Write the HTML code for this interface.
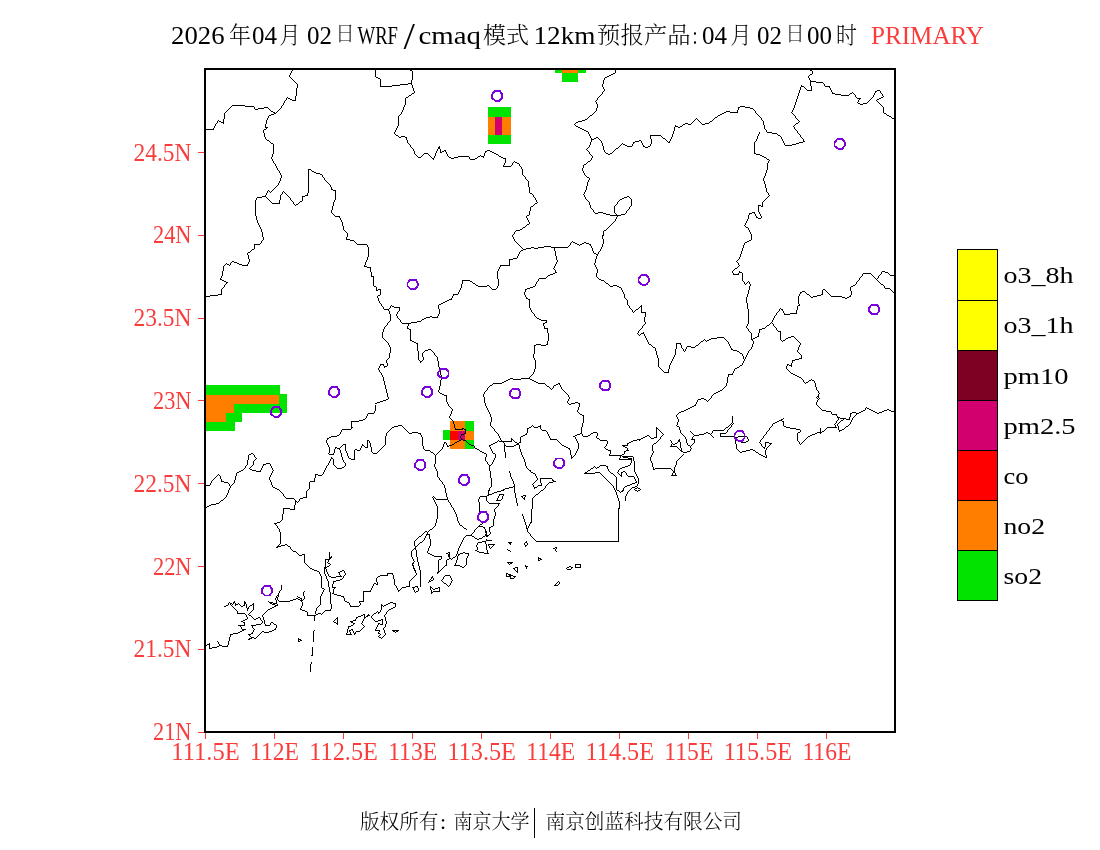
<!DOCTYPE html>
<html lang="zh-CN"><head><meta charset="utf-8"><title>WRF/cmaq 12km PRIMARY</title>
<style>
html,body{margin:0;padding:0;background:#fff;}
body{width:1100px;height:850px;overflow:hidden;}
svg{display:block;}
text{font-family:"Liberation Serif","Noto Serif CJK SC","Noto Sans CJK SC",serif;}
.cjk{font-family:"Liberation Serif","Noto Serif CJK SC","Noto Sans CJK SC",serif;font-weight:300;}
.map{fill:none;stroke:#000;stroke-width:1;stroke-linecap:butt;shape-rendering:crispEdges;}
.st{fill:none;stroke:#7d00dc;stroke-width:1.8;stroke-linejoin:round;shape-rendering:crispEdges;}
</style></head><body>
<svg width="1100" height="850" viewBox="0 0 1100 850">
<rect x="0" y="0" width="1100" height="850" fill="#fff"/>
<g shape-rendering="crispEdges">
<rect x="555" y="69" width="31" height="3.6" fill="#00e400"/>
<rect x="562" y="69" width="15.6" height="3.6" fill="#ff7e00"/>
<rect x="562" y="72.6" width="16" height="9.4" fill="#00e400"/>
<rect x="488" y="107" width="23" height="10" fill="#00e400"/>
<rect x="488" y="117" width="23" height="18" fill="#ff7e00"/>
<rect x="495" y="117" width="7" height="18" fill="#d2006e"/>
<rect x="488" y="135" width="23" height="9" fill="#00e400"/>
<rect x="205" y="385" width="75" height="10" fill="#00e400"/>
<rect x="205" y="395" width="74" height="9" fill="#ff7e00"/>
<rect x="279" y="394" width="8" height="10" fill="#00e400"/>
<rect x="205" y="404" width="29" height="9" fill="#ff7e00"/>
<rect x="234" y="404" width="53" height="9" fill="#00e400"/>
<rect x="205" y="413" width="21" height="9" fill="#ff7e00"/>
<rect x="226" y="413" width="16" height="9" fill="#00e400"/>
<rect x="205" y="422" width="30" height="9" fill="#00e400"/>
<rect x="450" y="421" width="15" height="10" fill="#ff7e00"/>
<rect x="465" y="421" width="9" height="10" fill="#00e400"/>
<rect x="443" y="430" width="7" height="10" fill="#00e400"/>
<rect x="450" y="431" width="8" height="9" fill="#ff0000"/>
<rect x="458" y="431" width="7" height="9" fill="#d2006e"/>
<rect x="465" y="431" width="9" height="9" fill="#ff7e00"/>
<rect x="450" y="440" width="15" height="9" fill="#ff7e00"/>
<rect x="465" y="440" width="9" height="9" fill="#00e400"/>
</g>
<path class="map" d="M292 69.5h1M375 69.5h1M409 69.5h1M615 69.5h1M809 69.5h1M292 70.5h1M375 70.5h1M410 70.5h2M615 70.5h1M810 70.5h2M291 71.5h1M375 71.5h1M412 71.5h1M615 71.5h1M812 71.5h1M291 72.5h1M375 72.5h1M412 72.5h1M615 72.5h1M812 72.5h1M290 73.5h1M375 73.5h1M412 73.5h1M613 73.5h2M812 73.5h1M290 74.5h1M375 74.5h1M412 74.5h1M611 74.5h2M810 74.5h2M289 75.5h1M375 75.5h1M412 75.5h1M609 75.5h2M809 75.5h1M289 76.5h1M375 76.5h1M412 76.5h1M607 76.5h2M808 76.5h1M290 77.5h1M376 77.5h2M412 77.5h1M605 77.5h2M808 77.5h1M291 78.5h1M378 78.5h2M412 78.5h1M604 78.5h1M809 78.5h1M292 79.5h1M380 79.5h1M412 79.5h1M604 79.5h1M809 79.5h1M293 80.5h1M380 80.5h1M411 80.5h1M603 80.5h1M810 80.5h1M294 81.5h1M380 81.5h1M411 81.5h1M603 81.5h1M810 81.5h6M295 82.5h1M380 82.5h1M411 82.5h1M603 82.5h1M810 82.5h1M816 82.5h7M296 83.5h1M380 83.5h1M408 83.5h4M603 83.5h1M810 83.5h1M823 83.5h1M297 84.5h1M380 84.5h1M400 84.5h8M411 84.5h1M602 84.5h1M810 84.5h1M824 84.5h1M297 85.5h1M380 85.5h1M392 85.5h8M412 85.5h1M602 85.5h1M801 85.5h1M810 85.5h1M824 85.5h1M297 86.5h1M380 86.5h12M412 86.5h1M602 86.5h1M801 86.5h3M811 86.5h1M825 86.5h5M297 87.5h1M412 87.5h1M603 87.5h1M800 87.5h1M804 87.5h1M811 87.5h1M829 87.5h1M296 88.5h1M413 88.5h1M603 88.5h1M800 88.5h1M805 88.5h1M811 88.5h1M830 88.5h1M296 89.5h1M413 89.5h1M604 89.5h1M800 89.5h1M806 89.5h1M811 89.5h1M830 89.5h1M296 90.5h1M413 90.5h1M604 90.5h1M799 90.5h1M807 90.5h5M831 90.5h1M877 90.5h3M296 91.5h1M414 91.5h1M603 91.5h1M799 91.5h1M831 91.5h1M875 91.5h2M880 91.5h1M296 92.5h1M414 92.5h1M602 92.5h1M799 92.5h1M832 92.5h1M852 92.5h1M875 92.5h1M880 92.5h1M296 93.5h1M412 93.5h2M602 93.5h1M798 93.5h1M832 93.5h3M850 93.5h2M853 93.5h1M874 93.5h1M881 93.5h1M296 94.5h1M411 94.5h1M601 94.5h1M798 94.5h1M835 94.5h6M849 94.5h1M854 94.5h1M874 94.5h1M882 94.5h1M296 95.5h1M409 95.5h2M600 95.5h1M798 95.5h1M841 95.5h8M855 95.5h1M873 95.5h1M882 95.5h1M295 96.5h1M408 96.5h1M599 96.5h1M797 96.5h1M855 96.5h1M873 96.5h1M883 96.5h1M287 97.5h1M295 97.5h1M406 97.5h2M598 97.5h1M797 97.5h1M856 97.5h1M872 97.5h1M881 97.5h2M286 98.5h1M288 98.5h2M295 98.5h1M405 98.5h1M597 98.5h1M797 98.5h1M857 98.5h4M871 98.5h1M879 98.5h2M286 99.5h1M290 99.5h2M295 99.5h1M405 99.5h1M597 99.5h1M796 99.5h1M859 99.5h1M870 99.5h1M877 99.5h2M285 100.5h1M292 100.5h4M405 100.5h1M596 100.5h1M796 100.5h1M858 100.5h1M869 100.5h1M876 100.5h1M284 101.5h1M405 101.5h1M595 101.5h1M796 101.5h1M858 101.5h1M868 101.5h1M877 101.5h1M284 102.5h1M405 102.5h1M596 102.5h1M795 102.5h1M857 102.5h1M867 102.5h1M878 102.5h1M283 103.5h1M405 103.5h1M596 103.5h1M795 103.5h1M858 103.5h2M863 103.5h4M879 103.5h1M283 104.5h1M405 104.5h1M597 104.5h1M795 104.5h1M860 104.5h3M880 104.5h1M232 105.5h13M282 105.5h1M404 105.5h1M597 105.5h1M794 105.5h1M881 105.5h1M231 106.5h1M245 106.5h9M281 106.5h1M404 106.5h1M597 106.5h1M740 106.5h5M794 106.5h1M882 106.5h1M230 107.5h1M254 107.5h1M264 107.5h4M281 107.5h1M403 107.5h1M597 107.5h1M738 107.5h2M745 107.5h5M794 107.5h1M883 107.5h1M229 108.5h1M254 108.5h1M258 108.5h6M268 108.5h1M280 108.5h1M403 108.5h1M596 108.5h1M738 108.5h1M750 108.5h3M793 108.5h1M883 108.5h1M228 109.5h1M255 109.5h3M269 109.5h1M279 109.5h1M403 109.5h1M596 109.5h1M738 109.5h1M753 109.5h1M793 109.5h1M883 109.5h1M227 110.5h1M270 110.5h1M278 110.5h1M402 110.5h1M596 110.5h1M737 110.5h1M754 110.5h1M792 110.5h1M883 110.5h1M226 111.5h1M271 111.5h2M277 111.5h1M402 111.5h1M595 111.5h1M726 111.5h4M737 111.5h1M755 111.5h1M792 111.5h1M883 111.5h1M225 112.5h1M273 112.5h2M276 112.5h1M401 112.5h1M594 112.5h1M724 112.5h2M730 112.5h8M755 112.5h1M791 112.5h1M883 112.5h1M224 113.5h1M274 113.5h2M401 113.5h1M593 113.5h1M722 113.5h2M756 113.5h1M792 113.5h1M884 113.5h2M224 114.5h1M271 114.5h3M400 114.5h1M592 114.5h1M720 114.5h2M757 114.5h1M793 114.5h1M886 114.5h1M224 115.5h1M269 115.5h2M399 115.5h1M590 115.5h2M718 115.5h2M758 115.5h1M794 115.5h1M887 115.5h2M224 116.5h1M268 116.5h1M398 116.5h1M589 116.5h1M717 116.5h1M759 116.5h1M795 116.5h1M889 116.5h2M224 117.5h1M268 117.5h1M398 117.5h1M588 117.5h1M715 117.5h2M760 117.5h1M795 117.5h1M891 117.5h1M224 118.5h1M267 118.5h1M398 118.5h1M587 118.5h1M696 118.5h1M714 118.5h1M761 118.5h1M796 118.5h1M892 118.5h2M223 119.5h1M267 119.5h1M398 119.5h1M585 119.5h2M695 119.5h1M697 119.5h1M713 119.5h1M761 119.5h1M797 119.5h1M894 119.5h1M218 120.5h1M223 120.5h1M266 120.5h1M398 120.5h1M582 120.5h3M694 120.5h1M698 120.5h1M712 120.5h1M762 120.5h1M798 120.5h1M894 120.5h1M217 121.5h1M219 121.5h2M223 121.5h1M266 121.5h1M398 121.5h1M578 121.5h4M693 121.5h1M699 121.5h1M710 121.5h2M763 121.5h1M799 121.5h1M894 121.5h1M217 122.5h1M221 122.5h3M266 122.5h1M398 122.5h1M576 122.5h2M692 122.5h1M700 122.5h1M709 122.5h1M763 122.5h1M798 122.5h1M894 122.5h1M216 123.5h1M223 123.5h1M266 123.5h1M398 123.5h1M575 123.5h1M685 123.5h3M691 123.5h1M701 123.5h1M705 123.5h4M763 123.5h1M796 123.5h2M894 123.5h1M215 124.5h1M265 124.5h1M398 124.5h1M574 124.5h1M683 124.5h2M688 124.5h3M702 124.5h3M763 124.5h1M795 124.5h1M215 125.5h1M265 125.5h1M398 125.5h1M575 125.5h1M675 125.5h1M682 125.5h1M764 125.5h1M794 125.5h1M214 126.5h1M265 126.5h1M397 126.5h1M576 126.5h2M675 126.5h3M680 126.5h2M764 126.5h1M793 126.5h1M214 127.5h1M265 127.5h3M397 127.5h1M578 127.5h2M674 127.5h1M678 127.5h2M764 127.5h1M794 127.5h1M213 128.5h1M266 128.5h1M396 128.5h1M580 128.5h2M674 128.5h1M764 128.5h1M794 128.5h1M205 129.5h9M264 129.5h2M396 129.5h1M582 129.5h2M674 129.5h1M765 129.5h1M795 129.5h1M263 130.5h1M395 130.5h1M584 130.5h2M674 130.5h1M766 130.5h1M796 130.5h1M263 131.5h1M395 131.5h1M586 131.5h2M673 131.5h1M766 131.5h1M797 131.5h1M263 132.5h1M394 132.5h1M588 132.5h1M673 132.5h1M759 132.5h1M767 132.5h5M797 132.5h1M264 133.5h1M394 133.5h1M588 133.5h1M673 133.5h1M759 133.5h1M772 133.5h5M798 133.5h1M264 134.5h1M395 134.5h1M589 134.5h1M672 134.5h1M758 134.5h1M777 134.5h1M799 134.5h1M264 135.5h1M396 135.5h2M589 135.5h1M650 135.5h11M672 135.5h1M758 135.5h1M778 135.5h2M800 135.5h1M264 136.5h1M398 136.5h1M401 136.5h4M590 136.5h1M650 136.5h1M661 136.5h1M672 136.5h1M757 136.5h1M780 136.5h1M800 136.5h1M265 137.5h1M399 137.5h2M405 137.5h2M590 137.5h1M596 137.5h2M650 137.5h1M662 137.5h1M671 137.5h1M757 137.5h1M781 137.5h1M801 137.5h1M265 138.5h1M406 138.5h1M591 138.5h1M594 138.5h2M598 138.5h1M650 138.5h1M663 138.5h2M671 138.5h1M757 138.5h1M781 138.5h1M802 138.5h1M266 139.5h1M406 139.5h1M591 139.5h3M599 139.5h1M651 139.5h1M665 139.5h1M670 139.5h1M756 139.5h1M782 139.5h1M803 139.5h1M267 140.5h2M407 140.5h1M591 140.5h1M600 140.5h1M639 140.5h2M651 140.5h1M666 140.5h1M670 140.5h1M756 140.5h1M782 140.5h1M803 140.5h1M269 141.5h1M407 141.5h1M591 141.5h1M601 141.5h1M635 141.5h4M641 141.5h1M651 141.5h1M667 141.5h1M669 141.5h1M755 141.5h1M783 141.5h1M803 141.5h2M270 142.5h1M407 142.5h1M590 142.5h1M601 142.5h1M633 142.5h2M641 142.5h1M651 142.5h1M668 142.5h2M754 142.5h1M783 142.5h1M799 142.5h4M271 143.5h2M408 143.5h1M590 143.5h1M602 143.5h1M622 143.5h1M633 143.5h1M642 143.5h1M651 143.5h1M754 143.5h1M784 143.5h1M796 143.5h3M273 144.5h1M409 144.5h1M590 144.5h1M602 144.5h1M621 144.5h1M623 144.5h2M632 144.5h1M642 144.5h1M650 144.5h1M754 144.5h1M784 144.5h1M792 144.5h4M273 145.5h1M410 145.5h1M589 145.5h1M602 145.5h1M620 145.5h1M625 145.5h2M632 145.5h1M643 145.5h1M650 145.5h1M754 145.5h1M785 145.5h7M273 146.5h1M410 146.5h1M439 146.5h1M589 146.5h1M603 146.5h1M619 146.5h1M627 146.5h5M643 146.5h2M648 146.5h2M754 146.5h1M273 147.5h1M411 147.5h1M438 147.5h2M588 147.5h1M603 147.5h1M618 147.5h1M645 147.5h3M754 147.5h1M273 148.5h1M412 148.5h1M438 148.5h2M587 148.5h1M603 148.5h1M616 148.5h2M754 148.5h1M273 149.5h1M413 149.5h1M437 149.5h1M440 149.5h1M586 149.5h1M603 149.5h1M615 149.5h1M754 149.5h1M273 150.5h1M413 150.5h1M437 150.5h1M440 150.5h1M444 150.5h2M487 150.5h3M587 150.5h1M604 150.5h1M614 150.5h1M754 150.5h1M273 151.5h1M414 151.5h1M436 151.5h1M440 151.5h1M442 151.5h2M445 151.5h1M485 151.5h2M490 151.5h2M588 151.5h1M604 151.5h1M613 151.5h1M754 151.5h1M273 152.5h1M414 152.5h1M436 152.5h1M440 152.5h2M446 152.5h1M485 152.5h1M492 152.5h2M589 152.5h1M605 152.5h1M612 152.5h1M754 152.5h1M273 153.5h1M414 153.5h1M424 153.5h4M435 153.5h1M446 153.5h1M484 153.5h1M494 153.5h2M589 153.5h1M606 153.5h2M610 153.5h2M754 153.5h2M272 154.5h1M415 154.5h1M423 154.5h1M428 154.5h1M435 154.5h1M447 154.5h1M484 154.5h1M496 154.5h2M590 154.5h1M608 154.5h2M756 154.5h4M272 155.5h1M416 155.5h1M422 155.5h1M429 155.5h1M435 155.5h1M447 155.5h1M480 155.5h1M484 155.5h1M498 155.5h1M591 155.5h1M760 155.5h2M272 156.5h1M417 156.5h1M421 156.5h1M430 156.5h1M434 156.5h1M448 156.5h1M458 156.5h11M478 156.5h2M481 156.5h3M499 156.5h2M592 156.5h1M762 156.5h2M271 157.5h1M418 157.5h3M431 157.5h1M434 157.5h1M449 157.5h2M454 157.5h4M469 157.5h1M477 157.5h1M483 157.5h1M501 157.5h2M592 157.5h1M764 157.5h2M271 158.5h1M432 158.5h2M451 158.5h3M469 158.5h1M475 158.5h2M503 158.5h3M591 158.5h1M766 158.5h1M272 159.5h1M433 159.5h1M470 159.5h5M505 159.5h1M591 159.5h1M767 159.5h2M272 160.5h1M505 160.5h1M590 160.5h1M769 160.5h1M273 161.5h1M505 161.5h1M514 161.5h1M588 161.5h2M768 161.5h1M273 162.5h1M505 162.5h1M513 162.5h1M515 162.5h2M587 162.5h1M768 162.5h1M274 163.5h1M504 163.5h1M512 163.5h1M517 163.5h2M586 163.5h1M767 163.5h1M275 164.5h1M504 164.5h1M512 164.5h1M519 164.5h1M584 164.5h2M767 164.5h1M275 165.5h1M503 165.5h1M511 165.5h1M519 165.5h1M583 165.5h1M767 165.5h1M276 166.5h1M503 166.5h8M520 166.5h1M583 166.5h1M767 166.5h1M276 167.5h1M521 167.5h1M583 167.5h1M767 167.5h1M277 168.5h1M521 168.5h1M582 168.5h1M767 168.5h1M277 169.5h1M308 169.5h3M522 169.5h1M582 169.5h1M767 169.5h1M278 170.5h1M308 170.5h1M311 170.5h1M522 170.5h1M582 170.5h1M766 170.5h1M279 171.5h1M308 171.5h1M312 171.5h2M522 171.5h1M583 171.5h1M766 171.5h1M279 172.5h1M308 172.5h1M314 172.5h2M522 172.5h1M583 172.5h1M766 172.5h1M280 173.5h1M308 173.5h1M316 173.5h4M522 173.5h1M584 173.5h1M765 173.5h1M280 174.5h1M308 174.5h1M320 174.5h2M522 174.5h1M584 174.5h1M765 174.5h1M281 175.5h1M308 175.5h1M322 175.5h1M523 175.5h1M585 175.5h1M765 175.5h1M281 176.5h1M308 176.5h1M322 176.5h1M524 176.5h1M586 176.5h1M764 176.5h1M281 177.5h1M308 177.5h1M323 177.5h1M525 177.5h1M587 177.5h2M764 177.5h1M280 178.5h1M308 178.5h1M324 178.5h1M525 178.5h1M589 178.5h1M763 178.5h1M280 179.5h1M308 179.5h1M324 179.5h1M526 179.5h1M589 179.5h1M763 179.5h1M280 180.5h1M308 180.5h1M325 180.5h1M527 180.5h1M588 180.5h1M763 180.5h1M279 181.5h1M308 181.5h1M326 181.5h1M528 181.5h1M588 181.5h1M764 181.5h1M279 182.5h1M308 182.5h1M327 182.5h1M528 182.5h1M587 182.5h1M764 182.5h1M278 183.5h1M308 183.5h1M328 183.5h1M528 183.5h1M587 183.5h1M764 183.5h1M278 184.5h1M308 184.5h1M329 184.5h1M528 184.5h1M587 184.5h1M765 184.5h1M277 185.5h1M308 185.5h1M330 185.5h1M528 185.5h1M587 185.5h1M765 185.5h1M276 186.5h1M308 186.5h1M330 186.5h1M528 186.5h1M586 186.5h1M765 186.5h1M275 187.5h1M308 187.5h1M331 187.5h1M529 187.5h1M586 187.5h1M765 187.5h1M274 188.5h1M308 188.5h1M331 188.5h1M529 188.5h1M586 188.5h1M766 188.5h1M273 189.5h1M308 189.5h1M331 189.5h2M529 189.5h1M586 189.5h1M766 189.5h1M268 190.5h1M272 190.5h1M308 190.5h1M333 190.5h3M529 190.5h1M585 190.5h1M766 190.5h1M267 191.5h1M269 191.5h1M271 191.5h1M283 191.5h1M308 191.5h1M335 191.5h1M529 191.5h1M585 191.5h1M766 191.5h1M267 192.5h1M270 192.5h1M282 192.5h1M284 192.5h1M308 192.5h1M335 192.5h1M529 192.5h1M584 192.5h1M767 192.5h1M266 193.5h1M282 193.5h1M285 193.5h1M307 193.5h1M335 193.5h1M530 193.5h2M584 193.5h1M768 193.5h1M266 194.5h1M281 194.5h1M286 194.5h1M307 194.5h1M335 194.5h1M532 194.5h1M583 194.5h1M768 194.5h1M265 195.5h1M280 195.5h1M287 195.5h1M305 195.5h3M335 195.5h1M533 195.5h1M584 195.5h1M769 195.5h1M262 196.5h4M280 196.5h1M288 196.5h1M302 196.5h3M335 196.5h1M533 196.5h1M584 196.5h1M627 196.5h2M768 196.5h1M257 197.5h5M266 197.5h1M280 197.5h1M289 197.5h1M302 197.5h1M335 197.5h1M534 197.5h1M585 197.5h1M624 197.5h3M629 197.5h1M767 197.5h1M256 198.5h1M267 198.5h1M280 198.5h1M290 198.5h1M302 198.5h1M335 198.5h1M535 198.5h1M585 198.5h1M622 198.5h2M630 198.5h1M766 198.5h1M256 199.5h1M268 199.5h1M280 199.5h1M290 199.5h1M302 199.5h1M335 199.5h1M535 199.5h1M586 199.5h1M620 199.5h2M631 199.5h1M765 199.5h1M255 200.5h1M269 200.5h1M279 200.5h1M291 200.5h1M302 200.5h1M334 200.5h1M536 200.5h1M587 200.5h1M619 200.5h1M631 200.5h1M764 200.5h1M255 201.5h1M270 201.5h1M279 201.5h1M292 201.5h1M300 201.5h2M334 201.5h1M536 201.5h1M588 201.5h1M618 201.5h1M631 201.5h1M763 201.5h1M255 202.5h1M271 202.5h1M279 202.5h1M293 202.5h1M299 202.5h1M333 202.5h1M537 202.5h1M589 202.5h1M617 202.5h1M631 202.5h1M762 202.5h1M255 203.5h1M272 203.5h8M293 203.5h1M298 203.5h1M333 203.5h1M535 203.5h2M589 203.5h1M617 203.5h1M631 203.5h1M762 203.5h1M255 204.5h1M294 204.5h1M296 204.5h2M333 204.5h1M534 204.5h1M589 204.5h1M616 204.5h1M631 204.5h1M762 204.5h1M255 205.5h1M295 205.5h1M333 205.5h1M533 205.5h1M590 205.5h1M615 205.5h1M631 205.5h1M758 205.5h3M762 205.5h1M255 206.5h1M332 206.5h1M531 206.5h2M590 206.5h1M614 206.5h1M630 206.5h1M758 206.5h1M761 206.5h2M255 207.5h1M332 207.5h1M530 207.5h1M590 207.5h1M614 207.5h1M629 207.5h1M758 207.5h1M255 208.5h1M332 208.5h1M530 208.5h1M591 208.5h1M614 208.5h1M629 208.5h1M758 208.5h1M255 209.5h1M332 209.5h1M530 209.5h1M592 209.5h1M614 209.5h1M628 209.5h1M758 209.5h1M255 210.5h1M331 210.5h1M530 210.5h1M593 210.5h1M614 210.5h1M627 210.5h1M758 210.5h1M255 211.5h1M331 211.5h1M529 211.5h1M593 211.5h1M614 211.5h1M626 211.5h1M758 211.5h1M255 212.5h1M331 212.5h1M529 212.5h1M594 212.5h1M598 212.5h5M614 212.5h1M626 212.5h1M752 212.5h3M759 212.5h1M255 213.5h1M332 213.5h1M529 213.5h1M595 213.5h3M603 213.5h3M615 213.5h1M625 213.5h1M749 213.5h3M754 213.5h1M759 213.5h1M255 214.5h1M333 214.5h1M529 214.5h1M606 214.5h4M616 214.5h1M621 214.5h4M749 214.5h1M755 214.5h1M760 214.5h1M255 215.5h1M334 215.5h1M527 215.5h2M610 215.5h11M748 215.5h1M755 215.5h1M760 215.5h1M256 216.5h1M335 216.5h5M526 216.5h1M617 216.5h1M748 216.5h1M756 216.5h1M761 216.5h1M256 217.5h1M339 217.5h1M526 217.5h1M616 217.5h1M748 217.5h1M756 217.5h2M761 217.5h1M256 218.5h1M340 218.5h1M527 218.5h1M616 218.5h1M748 218.5h1M758 218.5h3M256 219.5h1M340 219.5h1M527 219.5h1M615 219.5h1M747 219.5h1M257 220.5h1M341 220.5h1M528 220.5h1M615 220.5h1M747 220.5h1M257 221.5h1M341 221.5h1M528 221.5h1M614 221.5h1M746 221.5h1M257 222.5h1M342 222.5h1M529 222.5h1M613 222.5h1M746 222.5h1M258 223.5h1M342 223.5h1M529 223.5h1M612 223.5h1M745 223.5h1M258 224.5h1M342 224.5h1M527 224.5h2M611 224.5h1M745 224.5h1M259 225.5h1M342 225.5h1M526 225.5h1M610 225.5h1M744 225.5h1M259 226.5h1M343 226.5h1M525 226.5h1M609 226.5h1M745 226.5h1M260 227.5h1M343 227.5h1M523 227.5h2M608 227.5h1M746 227.5h2M260 228.5h1M343 228.5h1M522 228.5h1M607 228.5h1M748 228.5h1M261 229.5h1M343 229.5h1M520 229.5h2M606 229.5h1M748 229.5h1M261 230.5h1M344 230.5h1M516 230.5h4M604 230.5h2M749 230.5h1M261 231.5h1M345 231.5h1M515 231.5h1M603 231.5h1M749 231.5h1M262 232.5h1M346 232.5h1M514 232.5h1M603 232.5h1M750 232.5h1M262 233.5h1M347 233.5h1M514 233.5h1M603 233.5h1M750 233.5h1M262 234.5h1M347 234.5h1M513 234.5h1M603 234.5h1M751 234.5h1M262 235.5h1M347 235.5h1M512 235.5h1M602 235.5h2M751 235.5h1M262 236.5h1M347 236.5h1M512 236.5h1M602 236.5h1M751 236.5h1M263 237.5h1M346 237.5h1M513 237.5h1M602 237.5h1M751 237.5h1M263 238.5h1M346 238.5h1M513 238.5h1M602 238.5h1M751 238.5h1M263 239.5h1M346 239.5h4M514 239.5h1M603 239.5h1M751 239.5h1M262 240.5h1M350 240.5h4M514 240.5h1M603 240.5h1M749 240.5h2M261 241.5h1M354 241.5h1M515 241.5h1M572 241.5h1M603 241.5h1M747 241.5h2M261 242.5h1M355 242.5h1M516 242.5h1M571 242.5h1M573 242.5h2M584 242.5h2M603 242.5h1M745 242.5h2M260 243.5h1M356 243.5h1M517 243.5h1M570 243.5h1M575 243.5h2M582 243.5h2M586 243.5h3M603 243.5h1M744 243.5h1M254 244.5h6M357 244.5h10M518 244.5h1M570 244.5h1M577 244.5h2M580 244.5h2M589 244.5h2M602 244.5h1M744 244.5h1M254 245.5h1M367 245.5h1M519 245.5h1M569 245.5h1M579 245.5h1M590 245.5h1M602 245.5h1M743 245.5h1M254 246.5h1M367 246.5h1M520 246.5h1M544 246.5h7M568 246.5h1M591 246.5h1M602 246.5h1M743 246.5h1M254 247.5h1M368 247.5h1M521 247.5h1M531 247.5h3M538 247.5h6M551 247.5h17M591 247.5h1M601 247.5h1M743 247.5h1M254 248.5h1M368 248.5h1M522 248.5h1M526 248.5h5M534 248.5h4M554 248.5h1M592 248.5h1M601 248.5h1M742 248.5h1M252 249.5h2M368 249.5h1M523 249.5h3M554 249.5h1M592 249.5h1M600 249.5h1M742 249.5h1M251 250.5h1M368 250.5h1M521 250.5h2M554 250.5h1M592 250.5h1M600 250.5h1M742 250.5h1M250 251.5h1M368 251.5h1M520 251.5h1M555 251.5h1M593 251.5h1M599 251.5h1M741 251.5h1M248 252.5h2M368 252.5h1M519 252.5h1M555 252.5h1M593 252.5h1M598 252.5h1M741 252.5h1M247 253.5h1M368 253.5h1M519 253.5h1M555 253.5h1M594 253.5h2M598 253.5h1M741 253.5h1M247 254.5h1M368 254.5h1M518 254.5h1M555 254.5h1M596 254.5h2M740 254.5h1M248 255.5h1M368 255.5h1M518 255.5h1M555 255.5h1M597 255.5h1M740 255.5h1M248 256.5h1M368 256.5h1M517 256.5h1M556 256.5h1M596 256.5h1M740 256.5h1M248 257.5h1M367 257.5h1M517 257.5h1M556 257.5h1M596 257.5h1M739 257.5h1M248 258.5h1M367 258.5h1M513 258.5h4M556 258.5h1M596 258.5h1M739 258.5h1M249 259.5h1M367 259.5h1M509 259.5h4M556 259.5h1M595 259.5h1M738 259.5h1M249 260.5h1M366 260.5h1M509 260.5h1M557 260.5h1M595 260.5h1M737 260.5h1M232 261.5h2M249 261.5h1M366 261.5h1M509 261.5h1M557 261.5h1M595 261.5h1M736 261.5h1M231 262.5h1M234 262.5h3M248 262.5h1M365 262.5h1M509 262.5h1M556 262.5h1M595 262.5h1M737 262.5h1M226 263.5h1M230 263.5h1M237 263.5h2M248 263.5h1M365 263.5h1M509 263.5h1M556 263.5h1M594 263.5h1M738 263.5h1M225 264.5h1M227 264.5h2M230 264.5h1M239 264.5h3M247 264.5h1M365 264.5h1M509 264.5h1M555 264.5h1M594 264.5h1M738 264.5h1M224 265.5h1M229 265.5h1M242 265.5h6M364 265.5h1M500 265.5h10M555 265.5h1M595 265.5h1M739 265.5h1M223 266.5h1M364 266.5h3M500 266.5h1M554 266.5h1M595 266.5h1M738 266.5h1M223 267.5h1M367 267.5h4M499 267.5h1M554 267.5h1M596 267.5h1M737 267.5h1M223 268.5h1M370 268.5h1M499 268.5h1M553 268.5h1M596 268.5h1M735 268.5h2M223 269.5h1M370 269.5h1M498 269.5h1M554 269.5h1M597 269.5h1M734 269.5h1M223 270.5h1M370 270.5h1M498 270.5h1M555 270.5h1M597 270.5h1M733 270.5h1M222 271.5h1M370 271.5h1M497 271.5h1M555 271.5h1M597 271.5h1M732 271.5h1M739 271.5h1M882 271.5h3M222 272.5h1M371 272.5h1M497 272.5h1M555 272.5h2M597 272.5h1M732 272.5h1M739 272.5h3M881 272.5h1M885 272.5h3M222 273.5h1M371 273.5h1M497 273.5h1M553 273.5h2M596 273.5h1M733 273.5h1M738 273.5h1M742 273.5h1M863 273.5h8M881 273.5h1M888 273.5h1M222 274.5h1M371 274.5h1M497 274.5h1M550 274.5h3M596 274.5h1M733 274.5h6M742 274.5h1M862 274.5h1M871 274.5h1M880 274.5h1M889 274.5h1M222 275.5h1M371 275.5h1M497 275.5h1M548 275.5h2M596 275.5h1M742 275.5h1M862 275.5h1M872 275.5h1M879 275.5h1M890 275.5h5M221 276.5h1M371 276.5h3M497 276.5h1M547 276.5h1M596 276.5h1M742 276.5h1M861 276.5h1M873 276.5h1M878 276.5h1M221 277.5h1M373 277.5h1M497 277.5h1M546 277.5h1M597 277.5h1M742 277.5h1M860 277.5h1M874 277.5h1M878 277.5h1M220 278.5h1M373 278.5h1M497 278.5h1M539 278.5h7M598 278.5h1M742 278.5h1M859 278.5h1M875 278.5h1M877 278.5h1M220 279.5h2M373 279.5h1M498 279.5h1M538 279.5h1M599 279.5h2M742 279.5h1M859 279.5h1M876 279.5h1M222 280.5h2M373 280.5h1M462 280.5h8M498 280.5h1M538 280.5h1M601 280.5h3M742 280.5h1M858 280.5h1M877 280.5h1M224 281.5h2M373 281.5h1M462 281.5h1M470 281.5h2M498 281.5h1M537 281.5h1M604 281.5h1M743 281.5h1M748 281.5h1M857 281.5h1M878 281.5h1M226 282.5h2M373 282.5h1M462 282.5h1M472 282.5h1M498 282.5h1M536 282.5h1M605 282.5h1M744 282.5h1M747 282.5h1M749 282.5h1M856 282.5h1M879 282.5h1M226 283.5h1M373 283.5h1M462 283.5h1M473 283.5h2M498 283.5h1M536 283.5h1M606 283.5h2M744 283.5h1M746 283.5h1M749 283.5h1M856 283.5h1M880 283.5h1M225 284.5h1M373 284.5h1M461 284.5h1M475 284.5h1M498 284.5h1M535 284.5h1M608 284.5h1M745 284.5h1M750 284.5h1M855 284.5h1M881 284.5h2M224 285.5h1M373 285.5h1M461 285.5h1M476 285.5h2M487 285.5h2M498 285.5h1M535 285.5h1M609 285.5h1M613 285.5h4M750 285.5h1M853 285.5h2M883 285.5h1M224 286.5h1M374 286.5h2M461 286.5h1M478 286.5h9M489 286.5h1M497 286.5h1M533 286.5h2M610 286.5h3M617 286.5h2M749 286.5h1M851 286.5h2M884 286.5h1M223 287.5h1M376 287.5h1M461 287.5h1M490 287.5h1M497 287.5h1M530 287.5h3M619 287.5h2M749 287.5h1M850 287.5h1M884 287.5h1M222 288.5h1M376 288.5h1M460 288.5h1M491 288.5h1M496 288.5h1M527 288.5h3M621 288.5h1M749 288.5h1M850 288.5h1M885 288.5h5M221 289.5h1M376 289.5h1M378 289.5h3M460 289.5h1M492 289.5h4M525 289.5h2M621 289.5h1M749 289.5h1M823 289.5h2M850 289.5h1M890 289.5h1M221 290.5h1M376 290.5h2M380 290.5h1M459 290.5h1M525 290.5h1M622 290.5h1M748 290.5h1M822 290.5h1M825 290.5h1M850 290.5h1M891 290.5h1M221 291.5h1M380 291.5h1M459 291.5h1M525 291.5h1M622 291.5h1M748 291.5h1M802 291.5h3M822 291.5h1M826 291.5h1M851 291.5h1M892 291.5h1M221 292.5h1M380 292.5h1M458 292.5h1M524 292.5h1M623 292.5h1M748 292.5h1M800 292.5h2M805 292.5h1M822 292.5h1M827 292.5h1M851 292.5h1M893 292.5h1M221 293.5h1M380 293.5h1M458 293.5h1M524 293.5h1M623 293.5h1M748 293.5h1M800 293.5h1M806 293.5h1M822 293.5h1M828 293.5h1M851 293.5h1M894 293.5h1M218 294.5h4M380 294.5h1M453 294.5h5M524 294.5h1M624 294.5h1M747 294.5h1M799 294.5h1M807 294.5h2M821 294.5h2M829 294.5h1M851 294.5h1M210 295.5h8M378 295.5h2M453 295.5h1M525 295.5h1M624 295.5h1M747 295.5h1M799 295.5h1M809 295.5h1M817 295.5h4M830 295.5h1M850 295.5h1M205 296.5h5M377 296.5h1M452 296.5h1M525 296.5h1M624 296.5h1M747 296.5h1M798 296.5h1M810 296.5h1M813 296.5h4M831 296.5h11M849 296.5h2M377 297.5h1M452 297.5h1M526 297.5h1M624 297.5h1M746 297.5h1M798 297.5h1M811 297.5h2M842 297.5h3M847 297.5h2M378 298.5h1M451 298.5h1M526 298.5h2M625 298.5h1M746 298.5h1M798 298.5h1M845 298.5h2M378 299.5h1M449 299.5h3M528 299.5h2M626 299.5h1M746 299.5h1M798 299.5h1M378 300.5h1M447 300.5h2M529 300.5h1M627 300.5h1M746 300.5h1M798 300.5h1M379 301.5h1M445 301.5h2M529 301.5h1M627 301.5h1M746 301.5h1M798 301.5h1M379 302.5h1M443 302.5h2M529 302.5h1M627 302.5h1M746 302.5h1M798 302.5h1M380 303.5h1M441 303.5h2M529 303.5h1M627 303.5h1M747 303.5h1M798 303.5h1M381 304.5h1M439 304.5h2M529 304.5h1M627 304.5h1M747 304.5h1M799 304.5h1M381 305.5h1M391 305.5h1M438 305.5h1M529 305.5h1M628 305.5h1M641 305.5h1M747 305.5h1M798 305.5h2M382 306.5h1M390 306.5h1M392 306.5h2M438 306.5h1M529 306.5h1M629 306.5h1M640 306.5h2M747 306.5h1M797 306.5h1M383 307.5h1M390 307.5h1M394 307.5h6M438 307.5h1M529 307.5h1M629 307.5h1M639 307.5h1M641 307.5h1M747 307.5h1M797 307.5h1M383 308.5h1M389 308.5h1M399 308.5h1M438 308.5h1M530 308.5h1M630 308.5h1M638 308.5h1M641 308.5h1M747 308.5h1M780 308.5h1M797 308.5h1M384 309.5h5M399 309.5h1M439 309.5h1M530 309.5h1M631 309.5h1M636 309.5h2M641 309.5h1M748 309.5h1M779 309.5h1M781 309.5h2M797 309.5h1M388 310.5h1M399 310.5h1M439 310.5h1M531 310.5h1M632 310.5h1M635 310.5h1M641 310.5h1M748 310.5h1M779 310.5h1M782 310.5h1M796 310.5h1M389 311.5h1M398 311.5h1M439 311.5h1M531 311.5h1M632 311.5h1M634 311.5h1M641 311.5h1M748 311.5h1M778 311.5h1M783 311.5h1M796 311.5h1M389 312.5h1M397 312.5h1M439 312.5h1M532 312.5h1M633 312.5h1M641 312.5h5M748 312.5h1M777 312.5h1M783 312.5h1M796 312.5h1M389 313.5h1M397 313.5h1M439 313.5h1M533 313.5h1M645 313.5h1M748 313.5h1M776 313.5h1M784 313.5h1M790 313.5h7M390 314.5h1M396 314.5h1M438 314.5h1M534 314.5h1M645 314.5h1M748 314.5h1M776 314.5h1M784 314.5h6M390 315.5h1M396 315.5h1M438 315.5h1M534 315.5h1M645 315.5h1M748 315.5h1M775 315.5h1M390 316.5h1M397 316.5h1M430 316.5h2M437 316.5h1M535 316.5h1M645 316.5h1M748 316.5h1M774 316.5h1M390 317.5h1M397 317.5h1M426 317.5h4M432 317.5h6M536 317.5h1M644 317.5h1M748 317.5h1M774 317.5h1M390 318.5h1M398 318.5h1M424 318.5h2M537 318.5h2M644 318.5h1M748 318.5h1M773 318.5h1M390 319.5h1M399 319.5h1M422 319.5h2M539 319.5h2M644 319.5h1M748 319.5h1M773 319.5h1M390 320.5h1M400 320.5h1M421 320.5h1M541 320.5h6M644 320.5h1M748 320.5h1M772 320.5h1M389 321.5h1M400 321.5h1M417 321.5h4M546 321.5h1M644 321.5h1M748 321.5h1M772 321.5h1M388 322.5h1M401 322.5h1M411 322.5h6M545 322.5h2M645 322.5h1M748 322.5h1M771 322.5h1M387 323.5h1M402 323.5h9M543 323.5h2M645 323.5h1M748 323.5h1M770 323.5h1M772 323.5h1M387 324.5h1M408 324.5h1M543 324.5h1M644 324.5h1M747 324.5h1M769 324.5h1M773 324.5h1M386 325.5h1M408 325.5h1M543 325.5h1M643 325.5h1M747 325.5h1M767 325.5h2M773 325.5h1M385 326.5h1M407 326.5h1M544 326.5h1M642 326.5h1M746 326.5h1M766 326.5h1M774 326.5h1M384 327.5h1M407 327.5h1M544 327.5h1M642 327.5h1M746 327.5h1M765 327.5h1M775 327.5h1M384 328.5h1M407 328.5h2M544 328.5h4M641 328.5h1M747 328.5h1M762 328.5h3M776 328.5h1M383 329.5h1M409 329.5h2M547 329.5h1M640 329.5h1M748 329.5h1M759 329.5h3M776 329.5h1M383 330.5h1M410 330.5h1M547 330.5h1M639 330.5h1M748 330.5h1M759 330.5h1M777 330.5h1M383 331.5h1M410 331.5h1M547 331.5h1M638 331.5h1M749 331.5h1M759 331.5h1M778 331.5h3M382 332.5h1M410 332.5h1M547 332.5h1M638 332.5h1M643 332.5h1M750 332.5h1M759 332.5h1M780 332.5h1M382 333.5h1M410 333.5h1M548 333.5h1M637 333.5h1M641 333.5h3M751 333.5h1M758 333.5h1M780 333.5h1M382 334.5h1M410 334.5h1M548 334.5h1M638 334.5h1M640 334.5h1M644 334.5h1M751 334.5h1M758 334.5h1M780 334.5h1M382 335.5h1M410 335.5h1M548 335.5h1M639 335.5h1M644 335.5h1M751 335.5h1M758 335.5h1M780 335.5h1M382 336.5h1M410 336.5h1M548 336.5h1M645 336.5h1M751 336.5h1M757 336.5h2M780 336.5h1M791 336.5h3M382 337.5h1M410 337.5h1M548 337.5h1M645 337.5h1M717 337.5h7M751 337.5h1M755 337.5h2M780 337.5h1M788 337.5h3M794 337.5h1M383 338.5h1M410 338.5h1M548 338.5h1M646 338.5h1M711 338.5h6M724 338.5h1M751 338.5h1M753 338.5h2M780 338.5h1M786 338.5h2M795 338.5h1M384 339.5h1M410 339.5h1M548 339.5h1M646 339.5h1M704 339.5h1M709 339.5h2M725 339.5h1M751 339.5h2M780 339.5h1M785 339.5h1M796 339.5h1M385 340.5h1M410 340.5h2M548 340.5h1M647 340.5h1M703 340.5h1M705 340.5h1M707 340.5h2M726 340.5h1M752 340.5h1M781 340.5h1M783 340.5h2M797 340.5h1M386 341.5h1M412 341.5h2M547 341.5h1M647 341.5h1M701 341.5h2M706 341.5h1M727 341.5h1M753 341.5h1M782 341.5h1M798 341.5h1M387 342.5h1M414 342.5h2M547 342.5h1M648 342.5h1M700 342.5h1M728 342.5h1M753 342.5h1M799 342.5h1M388 343.5h1M416 343.5h2M547 343.5h1M648 343.5h1M676 343.5h5M699 343.5h1M728 343.5h1M753 343.5h1M800 343.5h1M388 344.5h1M417 344.5h1M536 344.5h5M546 344.5h2M649 344.5h2M676 344.5h1M680 344.5h1M698 344.5h1M729 344.5h1M752 344.5h1M800 344.5h1M389 345.5h1M417 345.5h1M534 345.5h2M541 345.5h5M651 345.5h1M676 345.5h1M681 345.5h1M696 345.5h2M729 345.5h1M752 345.5h1M799 345.5h1M389 346.5h1M417 346.5h1M534 346.5h1M652 346.5h1M676 346.5h1M681 346.5h1M687 346.5h4M695 346.5h1M730 346.5h1M752 346.5h1M799 346.5h1M390 347.5h1M417 347.5h1M534 347.5h1M653 347.5h2M676 347.5h1M681 347.5h1M686 347.5h1M691 347.5h4M730 347.5h1M751 347.5h1M798 347.5h1M390 348.5h1M417 348.5h1M534 348.5h1M655 348.5h1M676 348.5h1M682 348.5h1M686 348.5h1M731 348.5h1M751 348.5h1M798 348.5h1M390 349.5h1M417 349.5h1M428 349.5h3M534 349.5h1M655 349.5h1M675 349.5h1M683 349.5h1M685 349.5h1M731 349.5h2M750 349.5h1M798 349.5h1M390 350.5h1M417 350.5h1M425 350.5h3M431 350.5h1M534 350.5h1M655 350.5h1M675 350.5h1M683 350.5h1M685 350.5h1M733 350.5h4M749 350.5h1M797 350.5h1M390 351.5h1M418 351.5h1M424 351.5h1M432 351.5h1M534 351.5h1M656 351.5h1M675 351.5h1M684 351.5h1M737 351.5h2M748 351.5h1M797 351.5h1M390 352.5h1M418 352.5h1M423 352.5h1M433 352.5h1M534 352.5h1M656 352.5h1M675 352.5h1M739 352.5h1M748 352.5h1M798 352.5h1M389 353.5h1M418 353.5h1M422 353.5h1M434 353.5h1M534 353.5h1M656 353.5h1M675 353.5h1M740 353.5h2M747 353.5h1M799 353.5h1M389 354.5h1M418 354.5h1M422 354.5h1M434 354.5h1M533 354.5h1M656 354.5h1M675 354.5h1M742 354.5h1M747 354.5h1M800 354.5h1M389 355.5h1M418 355.5h1M422 355.5h1M435 355.5h1M533 355.5h1M657 355.5h1M674 355.5h1M742 355.5h1M746 355.5h1M801 355.5h1M389 356.5h1M418 356.5h1M422 356.5h1M436 356.5h1M533 356.5h1M657 356.5h1M674 356.5h1M743 356.5h1M746 356.5h1M801 356.5h1M389 357.5h1M418 357.5h1M423 357.5h1M437 357.5h1M533 357.5h1M657 357.5h1M673 357.5h1M743 357.5h1M745 357.5h1M801 357.5h1M388 358.5h1M418 358.5h1M423 358.5h1M437 358.5h1M534 358.5h1M658 358.5h1M673 358.5h1M743 358.5h1M745 358.5h1M799 358.5h3M387 359.5h1M418 359.5h1M423 359.5h1M437 359.5h1M534 359.5h1M658 359.5h1M672 359.5h1M744 359.5h1M795 359.5h4M386 360.5h1M419 360.5h1M422 360.5h1M437 360.5h1M535 360.5h1M658 360.5h1M672 360.5h1M744 360.5h1M792 360.5h3M386 361.5h1M420 361.5h2M438 361.5h1M535 361.5h1M658 361.5h1M671 361.5h1M743 361.5h1M792 361.5h1M386 362.5h1M420 362.5h1M438 362.5h1M535 362.5h1M658 362.5h1M671 362.5h1M743 362.5h1M792 362.5h1M387 363.5h1M438 363.5h1M535 363.5h1M658 363.5h1M670 363.5h1M742 363.5h1M791 363.5h1M380 364.5h4M387 364.5h1M438 364.5h1M535 364.5h1M658 364.5h1M670 364.5h1M742 364.5h1M787 364.5h2M791 364.5h1M380 365.5h1M383 365.5h1M387 365.5h1M438 365.5h1M535 365.5h1M658 365.5h1M669 365.5h1M740 365.5h2M787 365.5h1M789 365.5h3M379 366.5h1M384 366.5h3M438 366.5h1M535 366.5h1M658 366.5h1M669 366.5h1M739 366.5h1M786 366.5h1M791 366.5h1M379 367.5h1M384 367.5h1M439 367.5h1M535 367.5h1M659 367.5h1M669 367.5h1M737 367.5h2M786 367.5h1M378 368.5h1M439 368.5h1M535 368.5h1M660 368.5h1M669 368.5h1M735 368.5h2M786 368.5h1M378 369.5h1M439 369.5h1M534 369.5h1M661 369.5h1M668 369.5h1M734 369.5h1M787 369.5h1M379 370.5h1M439 370.5h1M534 370.5h1M662 370.5h1M668 370.5h1M734 370.5h1M788 370.5h1M379 371.5h1M440 371.5h1M534 371.5h1M663 371.5h1M668 371.5h1M733 371.5h1M789 371.5h1M380 372.5h1M440 372.5h1M533 372.5h1M664 372.5h5M733 372.5h1M790 372.5h1M381 373.5h1M440 373.5h1M533 373.5h1M732 373.5h1M791 373.5h2M381 374.5h1M440 374.5h1M532 374.5h1M728 374.5h5M793 374.5h2M382 375.5h1M441 375.5h1M531 375.5h1M728 375.5h1M795 375.5h2M382 376.5h1M441 376.5h1M530 376.5h1M728 376.5h1M797 376.5h2M383 377.5h1M441 377.5h1M529 377.5h1M727 377.5h1M799 377.5h2M383 378.5h1M441 378.5h1M510 378.5h3M521 378.5h9M727 378.5h1M801 378.5h1M383 379.5h1M441 379.5h1M508 379.5h2M513 379.5h8M530 379.5h2M727 379.5h1M802 379.5h1M811 379.5h1M383 380.5h1M440 380.5h1M506 380.5h2M532 380.5h2M727 380.5h1M803 380.5h1M809 380.5h2M812 380.5h2M384 381.5h1M440 381.5h1M504 381.5h2M534 381.5h2M727 381.5h1M803 381.5h1M808 381.5h1M814 381.5h1M384 382.5h1M440 382.5h1M502 382.5h2M536 382.5h2M727 382.5h1M804 382.5h1M806 382.5h2M814 382.5h1M384 383.5h1M440 383.5h1M493 383.5h9M538 383.5h7M558 383.5h2M726 383.5h1M805 383.5h1M815 383.5h1M384 384.5h1M440 384.5h1M492 384.5h1M545 384.5h1M556 384.5h2M559 384.5h1M726 384.5h1M815 384.5h1M385 385.5h1M440 385.5h1M490 385.5h2M546 385.5h1M554 385.5h2M560 385.5h1M726 385.5h1M815 385.5h1M385 386.5h1M439 386.5h1M489 386.5h1M547 386.5h2M553 386.5h1M560 386.5h1M725 386.5h1M815 386.5h1M385 387.5h1M439 387.5h1M488 387.5h1M549 387.5h1M553 387.5h1M561 387.5h1M724 387.5h1M816 387.5h1M385 388.5h1M439 388.5h1M487 388.5h1M550 388.5h1M552 388.5h1M561 388.5h1M723 388.5h1M816 388.5h1M386 389.5h1M439 389.5h1M487 389.5h1M551 389.5h1M562 389.5h1M722 389.5h1M816 389.5h1M386 390.5h1M438 390.5h1M486 390.5h1M563 390.5h1M720 390.5h2M817 390.5h1M386 391.5h1M438 391.5h1M485 391.5h1M564 391.5h1M718 391.5h2M818 391.5h1M386 392.5h1M439 392.5h1M484 392.5h1M565 392.5h1M716 392.5h2M818 392.5h1M387 393.5h1M440 393.5h2M484 393.5h1M566 393.5h1M714 393.5h2M819 393.5h1M387 394.5h1M442 394.5h2M483 394.5h1M567 394.5h1M713 394.5h1M818 394.5h1M387 395.5h1M444 395.5h3M483 395.5h1M568 395.5h1M712 395.5h1M818 395.5h1M387 396.5h1M446 396.5h1M483 396.5h1M568 396.5h1M711 396.5h1M817 396.5h2M388 397.5h1M446 397.5h1M484 397.5h1M569 397.5h1M711 397.5h1M816 397.5h1M818 397.5h1M388 398.5h1M446 398.5h1M484 398.5h1M569 398.5h1M701 398.5h3M710 398.5h1M817 398.5h1M819 398.5h1M386 399.5h2M446 399.5h1M484 399.5h1M568 399.5h1M698 399.5h3M704 399.5h2M709 399.5h1M818 399.5h1M383 400.5h3M446 400.5h1M484 400.5h1M568 400.5h1M697 400.5h1M706 400.5h1M708 400.5h1M817 400.5h1M380 401.5h3M446 401.5h1M484 401.5h1M567 401.5h1M697 401.5h1M707 401.5h1M817 401.5h1M377 402.5h3M447 402.5h1M484 402.5h1M567 402.5h1M575 402.5h3M696 402.5h1M816 402.5h1M375 403.5h2M447 403.5h1M485 403.5h1M568 403.5h1M571 403.5h4M578 403.5h2M696 403.5h1M816 403.5h1M448 404.5h1M485 404.5h1M569 404.5h2M579 404.5h1M695 404.5h1M816 404.5h1M375 405.5h1M448 405.5h1M485 405.5h1M579 405.5h1M694 405.5h2M817 405.5h1M375 406.5h1M449 406.5h1M486 406.5h1M579 406.5h1M692 406.5h2M818 406.5h1M375 407.5h1M450 407.5h1M486 407.5h1M578 407.5h1M690 407.5h2M819 407.5h1M866 407.5h1M375 408.5h1M451 408.5h1M487 408.5h1M578 408.5h1M688 408.5h2M820 408.5h1M865 408.5h1M867 408.5h2M375 409.5h1M452 409.5h1M487 409.5h1M578 409.5h1M686 409.5h2M821 409.5h1M865 409.5h1M869 409.5h2M887 409.5h2M375 410.5h1M452 410.5h1M488 410.5h1M577 410.5h1M684 410.5h2M822 410.5h4M863 410.5h2M871 410.5h2M884 410.5h3M889 410.5h2M374 411.5h1M451 411.5h1M488 411.5h1M577 411.5h1M681 411.5h3M826 411.5h5M861 411.5h2M873 411.5h2M882 411.5h2M891 411.5h4M374 412.5h1M451 412.5h1M489 412.5h1M578 412.5h1M679 412.5h2M831 412.5h1M852 412.5h4M859 412.5h2M875 412.5h2M879 412.5h3M368 413.5h6M451 413.5h1M489 413.5h1M579 413.5h1M678 413.5h1M831 413.5h1M850 413.5h2M856 413.5h3M877 413.5h2M367 414.5h1M450 414.5h1M490 414.5h1M580 414.5h2M677 414.5h1M832 414.5h5M850 414.5h1M856 414.5h1M367 415.5h1M450 415.5h1M490 415.5h1M582 415.5h2M676 415.5h1M836 415.5h1M850 415.5h1M855 415.5h1M366 416.5h1M449 416.5h1M490 416.5h1M583 416.5h1M676 416.5h1M732 416.5h1M837 416.5h1M850 416.5h1M854 416.5h1M366 417.5h1M449 417.5h1M491 417.5h1M583 417.5h1M677 417.5h1M732 417.5h1M837 417.5h3M849 417.5h1M853 417.5h1M365 418.5h1M450 418.5h1M491 418.5h1M583 418.5h1M677 418.5h1M732 418.5h1M783 418.5h1M838 418.5h1M840 418.5h6M849 418.5h1M852 418.5h1M363 419.5h2M451 419.5h1M491 419.5h1M583 419.5h1M678 419.5h1M732 419.5h1M781 419.5h2M838 419.5h1M843 419.5h1M846 419.5h4M852 419.5h1M359 420.5h4M452 420.5h1M491 420.5h1M583 420.5h1M678 420.5h1M732 420.5h1M779 420.5h3M837 420.5h1M841 420.5h2M851 420.5h1M351 421.5h8M453 421.5h1M491 421.5h1M583 421.5h1M678 421.5h1M732 421.5h1M777 421.5h2M782 421.5h2M836 421.5h1M840 421.5h1M851 421.5h1M351 422.5h1M453 422.5h1M490 422.5h1M583 422.5h1M677 422.5h1M732 422.5h1M775 422.5h2M783 422.5h1M836 422.5h1M839 422.5h1M850 422.5h1M351 423.5h1M453 423.5h1M490 423.5h1M582 423.5h1M677 423.5h1M731 423.5h1M733 423.5h1M773 423.5h2M783 423.5h1M835 423.5h1M838 423.5h1M850 423.5h1M351 424.5h1M454 424.5h1M490 424.5h1M582 424.5h1M677 424.5h1M730 424.5h1M732 424.5h1M772 424.5h1M783 424.5h1M834 424.5h1M837 424.5h1M849 424.5h1M351 425.5h1M398 425.5h4M454 425.5h1M490 425.5h1M532 425.5h1M540 425.5h1M582 425.5h1M676 425.5h1M729 425.5h1M731 425.5h1M772 425.5h1M783 425.5h1M835 425.5h1M837 425.5h1M848 425.5h1M351 426.5h1M394 426.5h4M402 426.5h1M454 426.5h1M491 426.5h1M531 426.5h1M533 426.5h1M538 426.5h3M582 426.5h1M677 426.5h2M728 426.5h1M731 426.5h1M771 426.5h1M784 426.5h2M835 426.5h1M838 426.5h1M846 426.5h2M351 427.5h2M392 427.5h2M403 427.5h1M454 427.5h1M492 427.5h1M529 427.5h2M534 427.5h4M540 427.5h1M581 427.5h1M656 427.5h1M679 427.5h1M726 427.5h2M730 427.5h1M770 427.5h1M786 427.5h4M827 427.5h10M838 427.5h1M845 427.5h1M351 428.5h1M391 428.5h1M404 428.5h1M455 428.5h1M462 428.5h2M493 428.5h1M527 428.5h2M540 428.5h1M581 428.5h1M656 428.5h2M679 428.5h1M725 428.5h1M729 428.5h1M769 428.5h1M790 428.5h6M820 428.5h1M826 428.5h1M838 428.5h1M844 428.5h1M342 429.5h9M390 429.5h1M405 429.5h1M455 429.5h8M464 429.5h2M494 429.5h1M527 429.5h1M541 429.5h1M581 429.5h1M656 429.5h1M658 429.5h1M679 429.5h1M724 429.5h1M728 429.5h1M769 429.5h1M796 429.5h4M820 429.5h1M825 429.5h1M838 429.5h1M842 429.5h2M341 430.5h1M389 430.5h1M406 430.5h1M465 430.5h1M494 430.5h1M527 430.5h1M542 430.5h4M581 430.5h1M656 430.5h1M659 430.5h1M680 430.5h1M713 430.5h11M727 430.5h1M768 430.5h1M800 430.5h1M820 430.5h1M824 430.5h1M839 430.5h3M341 431.5h1M388 431.5h1M407 431.5h1M465 431.5h1M495 431.5h1M527 431.5h1M546 431.5h1M581 431.5h1M656 431.5h1M660 431.5h1M680 431.5h1M690 431.5h1M712 431.5h1M727 431.5h1M767 431.5h1M800 431.5h1M820 431.5h1M822 431.5h2M839 431.5h1M340 432.5h1M387 432.5h1M408 432.5h1M412 432.5h6M465 432.5h1M496 432.5h1M527 432.5h1M547 432.5h1M581 432.5h1M593 432.5h4M656 432.5h1M661 432.5h1M680 432.5h1M691 432.5h1M706 432.5h2M712 432.5h1M726 432.5h1M766 432.5h1M798 432.5h2M817 432.5h5M340 433.5h1M386 433.5h1M409 433.5h3M418 433.5h3M464 433.5h2M497 433.5h1M526 433.5h1M547 433.5h1M580 433.5h2M591 433.5h2M597 433.5h1M656 433.5h1M662 433.5h1M681 433.5h1M692 433.5h1M704 433.5h2M708 433.5h2M711 433.5h1M720 433.5h6M766 433.5h1M797 433.5h1M815 433.5h2M820 433.5h1M339 434.5h1M386 434.5h1M420 434.5h1M461 434.5h3M498 434.5h1M525 434.5h2M548 434.5h1M577 434.5h3M582 434.5h1M590 434.5h1M597 434.5h1M656 434.5h1M663 434.5h1M682 434.5h1M693 434.5h1M699 434.5h5M710 434.5h1M720 434.5h1M765 434.5h1M797 434.5h1M812 434.5h3M337 435.5h2M386 435.5h1M421 435.5h1M461 435.5h1M498 435.5h1M523 435.5h2M548 435.5h1M575 435.5h2M582 435.5h1M588 435.5h2M597 435.5h1M647 435.5h2M656 435.5h1M662 435.5h1M683 435.5h1M694 435.5h5M711 435.5h1M720 435.5h1M764 435.5h1M797 435.5h1M810 435.5h2M331 436.5h6M385 436.5h1M421 436.5h1M460 436.5h1M499 436.5h1M521 436.5h2M549 436.5h1M573 436.5h2M583 436.5h5M596 436.5h1M645 436.5h2M649 436.5h1M656 436.5h1M661 436.5h1M684 436.5h1M693 436.5h1M712 436.5h1M720 436.5h14M738 436.5h9M763 436.5h1M797 436.5h1M808 436.5h2M329 437.5h2M385 437.5h1M422 437.5h1M460 437.5h1M499 437.5h1M520 437.5h1M549 437.5h1M575 437.5h1M596 437.5h1M643 437.5h2M650 437.5h1M654 437.5h3M660 437.5h1M685 437.5h1M692 437.5h1M713 437.5h1M734 437.5h4M747 437.5h1M763 437.5h1M797 437.5h1M807 437.5h1M327 438.5h2M385 438.5h1M422 438.5h1M461 438.5h1M500 438.5h1M511 438.5h1M520 438.5h1M550 438.5h1M575 438.5h1M597 438.5h2M641 438.5h2M651 438.5h3M660 438.5h1M685 438.5h1M692 438.5h1M735 438.5h1M747 438.5h1M762 438.5h1M797 438.5h1M806 438.5h1M327 439.5h1M385 439.5h1M422 439.5h1M461 439.5h2M500 439.5h1M511 439.5h2M520 439.5h1M550 439.5h7M576 439.5h1M599 439.5h1M637 439.5h4M659 439.5h1M679 439.5h1M686 439.5h1M691 439.5h4M735 439.5h1M748 439.5h1M761 439.5h1M797 439.5h1M805 439.5h1M326 440.5h1M367 440.5h2M385 440.5h1M422 440.5h1M459 440.5h2M463 440.5h3M498 440.5h1M501 440.5h1M511 440.5h1M513 440.5h1M520 440.5h1M557 440.5h1M576 440.5h1M600 440.5h7M633 440.5h4M639 440.5h1M658 440.5h1M670 440.5h1M678 440.5h2M686 440.5h1M694 440.5h1M735 440.5h1M748 440.5h1M760 440.5h1M797 440.5h1M804 440.5h1M326 441.5h1M367 441.5h1M369 441.5h1M385 441.5h1M422 441.5h1M457 441.5h2M466 441.5h1M497 441.5h1M499 441.5h13M514 441.5h1M520 441.5h1M558 441.5h1M577 441.5h1M607 441.5h1M631 441.5h2M657 441.5h1M671 441.5h1M678 441.5h2M686 441.5h1M694 441.5h1M735 441.5h1M746 441.5h2M760 441.5h1M798 441.5h1M803 441.5h1M326 442.5h1M367 442.5h1M369 442.5h1M385 442.5h1M422 442.5h1M444 442.5h2M455 442.5h2M467 442.5h1M495 442.5h2M503 442.5h1M515 442.5h2M519 442.5h2M559 442.5h1M577 442.5h1M607 442.5h1M629 442.5h2M656 442.5h1M671 442.5h1M677 442.5h1M680 442.5h1M686 442.5h1M694 442.5h1M735 442.5h1M741 442.5h5M759 442.5h1M765 442.5h4M799 442.5h1M802 442.5h1M327 443.5h1M367 443.5h1M370 443.5h1M385 443.5h1M422 443.5h1M444 443.5h1M446 443.5h1M454 443.5h1M468 443.5h1M493 443.5h2M504 443.5h1M517 443.5h2M560 443.5h1M578 443.5h1M607 443.5h1M627 443.5h2M654 443.5h2M672 443.5h1M675 443.5h2M680 443.5h1M687 443.5h1M693 443.5h1M735 443.5h1M760 443.5h1M765 443.5h1M769 443.5h3M799 443.5h1M801 443.5h1M327 444.5h1M343 444.5h3M362 444.5h1M367 444.5h1M370 444.5h1M385 444.5h1M422 444.5h1M443 444.5h1M446 444.5h1M452 444.5h2M469 444.5h2M491 444.5h2M504 444.5h1M516 444.5h3M561 444.5h1M578 444.5h1M606 444.5h1M627 444.5h1M653 444.5h1M671 444.5h1M673 444.5h2M680 444.5h1M687 444.5h1M692 444.5h1M736 444.5h1M761 444.5h1M765 444.5h1M770 444.5h1M800 444.5h1M328 445.5h1M342 445.5h1M345 445.5h1M362 445.5h2M367 445.5h1M370 445.5h1M384 445.5h1M422 445.5h1M443 445.5h1M447 445.5h1M449 445.5h3M471 445.5h3M489 445.5h2M504 445.5h2M514 445.5h2M519 445.5h1M562 445.5h2M578 445.5h1M606 445.5h1M622 445.5h6M652 445.5h1M671 445.5h1M680 445.5h1M688 445.5h2M691 445.5h1M736 445.5h1M761 445.5h1M765 445.5h1M769 445.5h1M328 446.5h1M341 446.5h1M345 446.5h1M361 446.5h1M364 446.5h1M367 446.5h1M370 446.5h1M383 446.5h1M423 446.5h1M443 446.5h1M447 446.5h2M474 446.5h1M489 446.5h1M504 446.5h1M506 446.5h8M519 446.5h1M564 446.5h2M578 446.5h1M605 446.5h1M623 446.5h2M652 446.5h1M670 446.5h7M680 446.5h1M690 446.5h1M736 446.5h1M762 446.5h1M765 446.5h1M768 446.5h1M329 447.5h1M335 447.5h2M340 447.5h1M345 447.5h1M361 447.5h1M365 447.5h3M371 447.5h1M382 447.5h1M423 447.5h1M442 447.5h1M474 447.5h1M490 447.5h1M504 447.5h1M519 447.5h1M566 447.5h2M578 447.5h1M604 447.5h1M625 447.5h2M652 447.5h1M677 447.5h1M680 447.5h1M690 447.5h1M736 447.5h1M763 447.5h2M767 447.5h1M329 448.5h1M335 448.5h1M337 448.5h3M345 448.5h1M360 448.5h1M371 448.5h1M381 448.5h1M423 448.5h1M442 448.5h1M475 448.5h2M490 448.5h1M504 448.5h1M519 448.5h1M568 448.5h2M578 448.5h1M605 448.5h1M627 448.5h1M652 448.5h1M678 448.5h1M681 448.5h1M691 448.5h1M736 448.5h1M764 448.5h1M766 448.5h1M329 449.5h1M334 449.5h1M339 449.5h1M345 449.5h1M355 449.5h2M360 449.5h1M371 449.5h1M380 449.5h1M424 449.5h1M441 449.5h1M477 449.5h2M491 449.5h1M504 449.5h1M520 449.5h1M569 449.5h1M577 449.5h1M606 449.5h2M627 449.5h1M652 449.5h1M679 449.5h1M681 449.5h1M690 449.5h1M737 449.5h1M750 449.5h3M766 449.5h1M329 450.5h1M334 450.5h1M340 450.5h1M345 450.5h1M354 450.5h1M357 450.5h3M371 450.5h1M379 450.5h1M425 450.5h5M440 450.5h1M479 450.5h1M491 450.5h1M504 450.5h1M520 450.5h1M570 450.5h1M577 450.5h1M608 450.5h3M626 450.5h3M652 450.5h1M680 450.5h2M690 450.5h1M738 450.5h1M746 450.5h4M753 450.5h2M765 450.5h1M329 451.5h1M334 451.5h1M340 451.5h1M346 451.5h1M354 451.5h1M371 451.5h1M378 451.5h1M430 451.5h1M439 451.5h1M480 451.5h2M492 451.5h1M504 451.5h1M520 451.5h1M570 451.5h1M576 451.5h1M610 451.5h1M624 451.5h2M653 451.5h1M681 451.5h2M687 451.5h3M739 451.5h1M742 451.5h4M755 451.5h1M765 451.5h1M329 452.5h1M334 452.5h1M340 452.5h1M346 452.5h1M354 452.5h1M372 452.5h1M377 452.5h1M431 452.5h2M438 452.5h1M482 452.5h2M492 452.5h1M505 452.5h1M521 452.5h1M570 452.5h1M576 452.5h1M610 452.5h1M624 452.5h1M653 452.5h1M683 452.5h4M740 452.5h2M756 452.5h2M765 452.5h1M251 453.5h2M328 453.5h1M333 453.5h1M341 453.5h1M347 453.5h1M354 453.5h1M373 453.5h4M433 453.5h1M437 453.5h1M484 453.5h2M493 453.5h2M505 453.5h1M521 453.5h1M570 453.5h1M575 453.5h1M610 453.5h1M624 453.5h1M652 453.5h1M758 453.5h1M765 453.5h1M249 454.5h2M253 454.5h1M329 454.5h5M341 454.5h1M347 454.5h1M354 454.5h1M434 454.5h1M436 454.5h1M486 454.5h1M495 454.5h1M505 454.5h1M521 454.5h1M570 454.5h1M575 454.5h1M609 454.5h1M622 454.5h2M652 454.5h1M683 454.5h1M759 454.5h2M765 454.5h1M248 455.5h1M254 455.5h1M341 455.5h1M347 455.5h1M354 455.5h1M435 455.5h1M486 455.5h1M495 455.5h1M505 455.5h1M522 455.5h1M571 455.5h1M574 455.5h1M609 455.5h13M651 455.5h1M682 455.5h1M761 455.5h2M766 455.5h1M248 456.5h1M254 456.5h1M341 456.5h1M348 456.5h1M354 456.5h1M435 456.5h1M486 456.5h1M495 456.5h1M505 456.5h1M522 456.5h1M571 456.5h1M573 456.5h1M620 456.5h1M622 456.5h11M651 456.5h1M681 456.5h1M763 456.5h2M766 456.5h1M248 457.5h1M255 457.5h1M331 457.5h1M342 457.5h1M348 457.5h1M354 457.5h1M435 457.5h1M485 457.5h1M495 457.5h1M505 457.5h1M523 457.5h1M571 457.5h2M620 457.5h1M623 457.5h5M633 457.5h1M650 457.5h1M680 457.5h1M765 457.5h2M248 458.5h1M256 458.5h1M331 458.5h2M342 458.5h1M349 458.5h2M354 458.5h1M435 458.5h1M485 458.5h1M494 458.5h1M523 458.5h1M571 458.5h1M619 458.5h1M628 458.5h4M633 458.5h1M650 458.5h1M679 458.5h1M248 459.5h1M255 459.5h1M330 459.5h1M333 459.5h1M342 459.5h1M351 459.5h4M435 459.5h1M485 459.5h1M494 459.5h1M524 459.5h1M619 459.5h13M633 459.5h1M650 459.5h1M678 459.5h1M247 460.5h1M254 460.5h1M330 460.5h1M333 460.5h1M343 460.5h1M435 460.5h1M485 460.5h1M493 460.5h1M524 460.5h1M631 460.5h1M633 460.5h1M650 460.5h1M677 460.5h1M247 461.5h1M253 461.5h1M329 461.5h1M333 461.5h1M343 461.5h1M435 461.5h1M486 461.5h1M493 461.5h1M524 461.5h1M631 461.5h1M634 461.5h1M651 461.5h1M676 461.5h1M247 462.5h1M253 462.5h1M329 462.5h1M333 462.5h1M344 462.5h1M435 462.5h1M487 462.5h1M492 462.5h1M525 462.5h1M631 462.5h1M634 462.5h1M651 462.5h1M676 462.5h1M247 463.5h1M253 463.5h1M266 463.5h4M328 463.5h1M333 463.5h1M345 463.5h1M435 463.5h1M487 463.5h1M492 463.5h1M525 463.5h1M630 463.5h1M634 463.5h1M652 463.5h1M676 463.5h1M247 464.5h1M253 464.5h1M263 464.5h3M270 464.5h1M328 464.5h1M333 464.5h1M345 464.5h1M434 464.5h1M488 464.5h1M491 464.5h1M525 464.5h1M630 464.5h1M634 464.5h1M652 464.5h1M676 464.5h1M246 465.5h1M252 465.5h1M263 465.5h1M270 465.5h1M327 465.5h1M334 465.5h1M345 465.5h1M434 465.5h1M489 465.5h2M525 465.5h1M600 465.5h6M628 465.5h2M634 465.5h1M652 465.5h1M675 465.5h1M245 466.5h1M251 466.5h1M262 466.5h1M271 466.5h1M326 466.5h1M335 466.5h1M344 466.5h1M434 466.5h1M489 466.5h1M526 466.5h1M594 466.5h1M599 466.5h1M606 466.5h2M625 466.5h3M634 466.5h1M652 466.5h1M675 466.5h1M245 467.5h1M250 467.5h1M262 467.5h1M271 467.5h1M326 467.5h1M336 467.5h1M342 467.5h2M435 467.5h1M489 467.5h1M526 467.5h1M593 467.5h1M595 467.5h1M597 467.5h2M607 467.5h1M622 467.5h3M634 467.5h1M653 467.5h1M674 467.5h1M244 468.5h1M249 468.5h1M261 468.5h1M272 468.5h1M325 468.5h1M337 468.5h5M435 468.5h1M489 468.5h1M527 468.5h1M591 468.5h2M596 468.5h1M607 468.5h1M620 468.5h2M634 468.5h1M653 468.5h1M655 468.5h16M674 468.5h1M243 469.5h1M250 469.5h2M261 469.5h1M272 469.5h1M325 469.5h1M436 469.5h1M489 469.5h1M528 469.5h1M590 469.5h1M608 469.5h1M619 469.5h1M634 469.5h1M653 469.5h2M671 469.5h1M674 469.5h1M241 470.5h2M252 470.5h4M260 470.5h1M273 470.5h1M324 470.5h1M436 470.5h1M489 470.5h1M529 470.5h2M588 470.5h2M608 470.5h1M618 470.5h1M634 470.5h1M672 470.5h1M674 470.5h1M239 471.5h2M256 471.5h5M272 471.5h1M324 471.5h1M437 471.5h1M490 471.5h1M509 471.5h1M530 471.5h1M587 471.5h1M609 471.5h1M618 471.5h1M623 471.5h2M634 471.5h1M673 471.5h2M237 472.5h2M272 472.5h1M323 472.5h1M437 472.5h1M490 472.5h1M509 472.5h1M531 472.5h2M585 472.5h2M595 472.5h5M610 472.5h1M617 472.5h1M621 472.5h2M625 472.5h1M635 472.5h1M673 472.5h2M236 473.5h1M271 473.5h1M323 473.5h1M437 473.5h1M490 473.5h1M510 473.5h1M533 473.5h2M584 473.5h11M600 473.5h1M611 473.5h2M618 473.5h1M621 473.5h1M626 473.5h1M635 473.5h1M672 473.5h1M675 473.5h1M218 474.5h1M236 474.5h1M271 474.5h1M315 474.5h3M322 474.5h1M437 474.5h1M490 474.5h1M510 474.5h1M535 474.5h1M601 474.5h1M613 474.5h1M619 474.5h1M621 474.5h1M626 474.5h1M636 474.5h1M672 474.5h1M675 474.5h1M217 475.5h1M219 475.5h1M236 475.5h1M270 475.5h1M315 475.5h1M318 475.5h4M437 475.5h1M490 475.5h1M510 475.5h1M535 475.5h1M602 475.5h1M614 475.5h1M620 475.5h2M627 475.5h1M636 475.5h1M671 475.5h6M216 476.5h1M220 476.5h1M235 476.5h1M270 476.5h1M315 476.5h1M437 476.5h1M490 476.5h1M510 476.5h1M536 476.5h1M603 476.5h1M615 476.5h1M621 476.5h1M628 476.5h6M637 476.5h1M215 477.5h1M220 477.5h1M235 477.5h1M269 477.5h1M315 477.5h1M438 477.5h1M490 477.5h1M511 477.5h1M536 477.5h1M604 477.5h1M616 477.5h1M634 477.5h1M637 477.5h1M214 478.5h1M220 478.5h1M235 478.5h1M269 478.5h1M314 478.5h1M439 478.5h1M491 478.5h1M511 478.5h1M537 478.5h1M540 478.5h12M605 478.5h1M616 478.5h1M634 478.5h1M638 478.5h1M213 479.5h1M221 479.5h1M235 479.5h1M269 479.5h1M314 479.5h1M439 479.5h1M491 479.5h1M512 479.5h1M537 479.5h1M540 479.5h1M552 479.5h1M606 479.5h1M616 479.5h1M635 479.5h1M638 479.5h1M212 480.5h1M221 480.5h1M234 480.5h1M270 480.5h1M314 480.5h1M440 480.5h1M491 480.5h1M512 480.5h1M536 480.5h1M540 480.5h1M552 480.5h2M607 480.5h1M616 480.5h1M635 480.5h1M638 480.5h1M211 481.5h1M221 481.5h3M234 481.5h1M270 481.5h1M310 481.5h5M441 481.5h1M491 481.5h1M513 481.5h1M535 481.5h1M540 481.5h1M553 481.5h3M608 481.5h1M616 481.5h1M636 481.5h1M638 481.5h1M211 482.5h1M224 482.5h4M234 482.5h1M271 482.5h1M309 482.5h1M442 482.5h1M491 482.5h1M513 482.5h1M534 482.5h1M540 482.5h1M549 482.5h4M609 482.5h1M616 482.5h1M635 482.5h2M638 482.5h1M210 483.5h1M228 483.5h1M233 483.5h1M271 483.5h1M309 483.5h1M442 483.5h1M491 483.5h1M513 483.5h1M533 483.5h1M541 483.5h1M548 483.5h1M610 483.5h1M616 483.5h1M632 483.5h3M638 483.5h1M210 484.5h1M229 484.5h1M232 484.5h1M271 484.5h1M309 484.5h1M443 484.5h1M491 484.5h1M514 484.5h1M532 484.5h1M541 484.5h1M547 484.5h1M611 484.5h1M616 484.5h1M630 484.5h2M637 484.5h1M205 485.5h5M229 485.5h1M231 485.5h1M272 485.5h1M309 485.5h1M444 485.5h1M491 485.5h1M514 485.5h1M533 485.5h1M538 485.5h4M546 485.5h1M612 485.5h1M616 485.5h1M627 485.5h3M637 485.5h1M230 486.5h1M272 486.5h1M309 486.5h1M444 486.5h1M491 486.5h1M513 486.5h2M533 486.5h1M537 486.5h1M545 486.5h1M613 486.5h1M616 486.5h1M625 486.5h2M635 486.5h2M230 487.5h1M273 487.5h2M309 487.5h1M444 487.5h1M490 487.5h1M509 487.5h4M514 487.5h1M534 487.5h3M545 487.5h1M613 487.5h1M616 487.5h1M624 487.5h1M632 487.5h3M637 487.5h1M229 488.5h1M275 488.5h2M309 488.5h1M445 488.5h1M489 488.5h1M505 488.5h4M514 488.5h1M534 488.5h1M544 488.5h1M614 488.5h1M616 488.5h1M623 488.5h1M631 488.5h1M635 488.5h2M638 488.5h2M229 489.5h1M277 489.5h2M308 489.5h1M445 489.5h1M489 489.5h1M503 489.5h2M514 489.5h1M543 489.5h1M614 489.5h1M616 489.5h1M623 489.5h1M630 489.5h1M634 489.5h1M640 489.5h1M228 490.5h1M279 490.5h1M307 490.5h1M445 490.5h1M488 490.5h2M501 490.5h3M514 490.5h1M541 490.5h2M615 490.5h1M617 490.5h2M622 490.5h2M629 490.5h1M635 490.5h2M638 490.5h2M228 491.5h1M280 491.5h1M306 491.5h1M445 491.5h1M488 491.5h1M497 491.5h4M514 491.5h1M540 491.5h1M615 491.5h1M619 491.5h1M621 491.5h2M628 491.5h1M637 491.5h1M228 492.5h1M281 492.5h1M306 492.5h1M445 492.5h1M488 492.5h1M494 492.5h3M514 492.5h1M539 492.5h1M616 492.5h1M620 492.5h1M627 492.5h1M227 493.5h1M282 493.5h1M306 493.5h1M446 493.5h1M488 493.5h1M492 493.5h2M515 493.5h1M538 493.5h1M616 493.5h1M627 493.5h1M227 494.5h1M283 494.5h1M306 494.5h1M446 494.5h1M488 494.5h4M499 494.5h5M515 494.5h1M536 494.5h2M616 494.5h1M626 494.5h1M226 495.5h1M283 495.5h1M306 495.5h1M446 495.5h1M487 495.5h2M499 495.5h1M503 495.5h1M515 495.5h1M523 495.5h3M535 495.5h1M617 495.5h1M626 495.5h1M226 496.5h1M284 496.5h1M306 496.5h1M433 496.5h1M446 496.5h1M480 496.5h7M498 496.5h1M502 496.5h1M515 496.5h1M521 496.5h2M525 496.5h1M534 496.5h1M617 496.5h1M625 496.5h1M225 497.5h1M285 497.5h1M303 497.5h4M432 497.5h1M434 497.5h1M447 497.5h1M479 497.5h1M486 497.5h1M498 497.5h1M502 497.5h1M515 497.5h1M522 497.5h1M524 497.5h1M533 497.5h1M617 497.5h1M625 497.5h1M224 498.5h1M286 498.5h8M300 498.5h3M433 498.5h1M435 498.5h1M447 498.5h1M479 498.5h1M486 498.5h1M497 498.5h1M502 498.5h1M516 498.5h1M523 498.5h2M532 498.5h1M618 498.5h1M625 498.5h1M223 499.5h1M294 499.5h1M299 499.5h1M433 499.5h1M436 499.5h12M478 499.5h1M486 499.5h1M497 499.5h1M501 499.5h1M516 499.5h1M524 499.5h1M532 499.5h1M618 499.5h1M625 499.5h1M221 500.5h2M295 500.5h1M299 500.5h1M434 500.5h1M448 500.5h1M478 500.5h1M486 500.5h1M496 500.5h5M516 500.5h1M532 500.5h1M618 500.5h1M625 500.5h1M220 501.5h1M295 501.5h2M298 501.5h1M434 501.5h1M448 501.5h1M478 501.5h1M487 501.5h1M516 501.5h1M532 501.5h1M619 501.5h1M219 502.5h1M295 502.5h1M297 502.5h1M435 502.5h1M449 502.5h1M479 502.5h1M488 502.5h1M516 502.5h1M532 502.5h1M619 502.5h1M216 503.5h3M295 503.5h1M435 503.5h1M450 503.5h1M479 503.5h1M489 503.5h11M517 503.5h1M532 503.5h1M619 503.5h1M211 504.5h5M295 504.5h1M436 504.5h1M450 504.5h1M479 504.5h1M498 504.5h1M517 504.5h1M532 504.5h1M619 504.5h1M209 505.5h2M294 505.5h1M436 505.5h1M451 505.5h1M479 505.5h1M498 505.5h1M517 505.5h1M532 505.5h1M619 505.5h1M207 506.5h2M294 506.5h1M437 506.5h1M451 506.5h1M479 506.5h1M497 506.5h1M532 506.5h1M619 506.5h1M205 507.5h2M294 507.5h1M437 507.5h1M452 507.5h1M479 507.5h1M496 507.5h1M532 507.5h1M619 507.5h1M283 508.5h7M294 508.5h1M437 508.5h1M453 508.5h1M479 508.5h1M495 508.5h1M532 508.5h1M618 508.5h2M283 509.5h1M290 509.5h5M437 509.5h1M453 509.5h1M479 509.5h1M494 509.5h1M531 509.5h1M618 509.5h1M283 510.5h1M437 510.5h1M454 510.5h1M479 510.5h1M494 510.5h1M531 510.5h1M618 510.5h1M283 511.5h1M437 511.5h1M454 511.5h1M479 511.5h1M494 511.5h1M531 511.5h1M618 511.5h1M283 512.5h1M437 512.5h1M455 512.5h1M495 512.5h1M531 512.5h1M618 512.5h1M283 513.5h1M437 513.5h1M455 513.5h1M495 513.5h1M531 513.5h1M618 513.5h1M282 514.5h1M437 514.5h1M456 514.5h1M495 514.5h1M522 514.5h1M531 514.5h1M618 514.5h1M282 515.5h1M437 515.5h1M456 515.5h1M495 515.5h1M522 515.5h1M531 515.5h1M618 515.5h1M282 516.5h1M437 516.5h1M456 516.5h1M494 516.5h1M523 516.5h1M531 516.5h1M618 516.5h1M282 517.5h1M437 517.5h1M457 517.5h1M494 517.5h1M523 517.5h1M531 517.5h1M618 517.5h1M282 518.5h1M437 518.5h1M457 518.5h1M494 518.5h1M523 518.5h1M531 518.5h1M618 518.5h1M282 519.5h1M436 519.5h1M457 519.5h1M493 519.5h1M524 519.5h1M531 519.5h1M618 519.5h1M281 520.5h1M436 520.5h1M457 520.5h1M493 520.5h1M524 520.5h1M531 520.5h1M618 520.5h1M280 521.5h1M436 521.5h1M458 521.5h1M493 521.5h1M524 521.5h1M531 521.5h1M618 521.5h1M277 522.5h3M436 522.5h1M458 522.5h1M483 522.5h1M493 522.5h1M525 522.5h1M530 522.5h2M618 522.5h1M274 523.5h3M435 523.5h1M459 523.5h1M482 523.5h1M493 523.5h1M525 523.5h1M530 523.5h1M618 523.5h1M275 524.5h1M435 524.5h1M459 524.5h1M480 524.5h2M493 524.5h1M525 524.5h1M529 524.5h1M618 524.5h1M276 525.5h1M435 525.5h1M460 525.5h2M479 525.5h1M493 525.5h1M526 525.5h1M529 525.5h1M618 525.5h1M277 526.5h1M434 526.5h1M462 526.5h1M478 526.5h5M491 526.5h2M526 526.5h1M528 526.5h1M618 526.5h1M277 527.5h1M433 527.5h1M463 527.5h1M477 527.5h1M483 527.5h2M489 527.5h2M526 527.5h1M528 527.5h1M618 527.5h1M278 528.5h1M432 528.5h1M464 528.5h2M476 528.5h1M484 528.5h1M489 528.5h1M526 528.5h2M618 528.5h1M279 529.5h1M430 529.5h2M466 529.5h1M475 529.5h1M485 529.5h1M489 529.5h1M527 529.5h1M618 529.5h1M279 530.5h1M429 530.5h1M474 530.5h1M485 530.5h1M489 530.5h1M527 530.5h1M618 530.5h1M279 531.5h1M425 531.5h2M428 531.5h1M474 531.5h1M485 531.5h2M489 531.5h1M527 531.5h1M618 531.5h1M280 532.5h1M424 532.5h1M427 532.5h1M473 532.5h1M485 532.5h2M490 532.5h1M528 532.5h1M618 532.5h1M280 533.5h1M423 533.5h1M427 533.5h1M472 533.5h1M486 533.5h1M490 533.5h1M529 533.5h1M618 533.5h1M280 534.5h1M422 534.5h1M426 534.5h4M471 534.5h1M485 534.5h2M489 534.5h1M530 534.5h1M618 534.5h1M280 535.5h1M421 535.5h1M426 535.5h1M429 535.5h1M466 535.5h6M485 535.5h4M530 535.5h1M618 535.5h1M280 536.5h1M419 536.5h2M425 536.5h1M429 536.5h1M465 536.5h1M472 536.5h2M483 536.5h2M486 536.5h2M531 536.5h1M618 536.5h1M280 537.5h1M418 537.5h1M425 537.5h1M429 537.5h1M464 537.5h1M474 537.5h1M482 537.5h1M532 537.5h1M618 537.5h1M280 538.5h1M417 538.5h1M424 538.5h1M429 538.5h1M463 538.5h1M475 538.5h2M479 538.5h3M533 538.5h1M618 538.5h1M280 539.5h1M416 539.5h1M424 539.5h1M430 539.5h1M463 539.5h1M477 539.5h2M486 539.5h1M534 539.5h1M618 539.5h1M280 540.5h1M415 540.5h1M423 540.5h1M430 540.5h1M462 540.5h1M486 540.5h6M535 540.5h1M618 540.5h1M280 541.5h1M414 541.5h1M422 541.5h1M430 541.5h1M462 541.5h1M482 541.5h4M526 541.5h1M536 541.5h83M280 542.5h1M414 542.5h1M420 542.5h2M430 542.5h1M461 542.5h1M478 542.5h4M485 542.5h1M508 542.5h4M525 542.5h2M280 543.5h1M414 543.5h1M419 543.5h1M430 543.5h1M461 543.5h1M477 543.5h1M485 543.5h1M509 543.5h2M524 543.5h1M527 543.5h1M279 544.5h1M285 544.5h2M414 544.5h1M418 544.5h1M430 544.5h1M460 544.5h1M477 544.5h1M486 544.5h1M488 544.5h7M510 544.5h1M524 544.5h1M527 544.5h1M278 545.5h1M281 545.5h4M287 545.5h1M414 545.5h1M417 545.5h1M430 545.5h1M460 545.5h1M476 545.5h1M486 545.5h1M488 545.5h1M493 545.5h1M525 545.5h2M277 546.5h4M288 546.5h2M415 546.5h2M429 546.5h1M459 546.5h1M476 546.5h1M486 546.5h1M489 546.5h1M492 546.5h1M525 546.5h1M276 547.5h2M290 547.5h1M415 547.5h1M429 547.5h1M459 547.5h1M477 547.5h1M486 547.5h1M489 547.5h1M491 547.5h1M555 547.5h2M290 548.5h1M414 548.5h2M428 548.5h1M458 548.5h1M477 548.5h1M486 548.5h1M490 548.5h1M553 548.5h2M556 548.5h1M291 549.5h1M413 549.5h1M415 549.5h1M428 549.5h1M458 549.5h1M477 549.5h1M486 549.5h1M507 549.5h1M555 549.5h1M292 550.5h1M412 550.5h1M416 550.5h1M428 550.5h1M458 550.5h1M475 550.5h2M487 550.5h1M508 550.5h2M555 550.5h1M293 551.5h3M411 551.5h1M416 551.5h1M427 551.5h1M457 551.5h1M477 551.5h2M487 551.5h1M510 551.5h1M556 551.5h1M296 552.5h1M329 552.5h1M411 552.5h1M416 552.5h1M427 552.5h1M448 552.5h2M457 552.5h1M463 552.5h2M479 552.5h5M487 552.5h1M297 553.5h1M329 553.5h1M411 553.5h1M416 553.5h1M428 553.5h2M446 553.5h2M449 553.5h1M457 553.5h1M460 553.5h3M465 553.5h4M484 553.5h5M298 554.5h1M302 554.5h3M329 554.5h1M411 554.5h1M416 554.5h1M430 554.5h2M448 554.5h2M456 554.5h1M458 554.5h2M468 554.5h1M299 555.5h3M304 555.5h1M329 555.5h1M411 555.5h1M416 555.5h1M432 555.5h2M448 555.5h2M456 555.5h1M458 555.5h1M468 555.5h1M304 556.5h1M329 556.5h1M331 556.5h1M411 556.5h1M416 556.5h1M434 556.5h8M448 556.5h2M455 556.5h1M457 556.5h1M467 556.5h1M304 557.5h1M329 557.5h3M412 557.5h1M417 557.5h1M441 557.5h1M449 557.5h1M453 557.5h2M457 557.5h1M467 557.5h1M538 557.5h1M304 558.5h1M329 558.5h2M412 558.5h1M417 558.5h1M441 558.5h1M449 558.5h2M452 558.5h1M457 558.5h1M466 558.5h1M538 558.5h3M304 559.5h1M325 559.5h5M413 559.5h1M417 559.5h1M439 559.5h2M447 559.5h2M451 559.5h1M457 559.5h1M466 559.5h1M538 559.5h1M540 559.5h2M304 560.5h1M325 560.5h1M328 560.5h1M413 560.5h1M417 560.5h1M438 560.5h1M446 560.5h1M456 560.5h1M466 560.5h1M538 560.5h2M304 561.5h1M325 561.5h1M328 561.5h1M414 561.5h1M417 561.5h1M438 561.5h1M446 561.5h1M456 561.5h1M466 561.5h1M304 562.5h1M325 562.5h1M327 562.5h1M413 562.5h1M418 562.5h1M438 562.5h1M446 562.5h1M456 562.5h1M466 562.5h1M507 562.5h6M305 563.5h1M325 563.5h1M328 563.5h2M412 563.5h2M418 563.5h1M438 563.5h1M446 563.5h1M455 563.5h1M466 563.5h1M508 563.5h1M510 563.5h2M306 564.5h1M325 564.5h1M330 564.5h1M412 564.5h1M418 564.5h1M438 564.5h1M446 564.5h1M455 564.5h1M466 564.5h1M509 564.5h1M575 564.5h6M307 565.5h1M325 565.5h1M329 565.5h1M412 565.5h2M418 565.5h1M438 565.5h1M445 565.5h2M454 565.5h6M465 565.5h1M525 565.5h1M575 565.5h1M580 565.5h1M308 566.5h1M325 566.5h1M327 566.5h2M413 566.5h1M419 566.5h1M438 566.5h1M444 566.5h1M460 566.5h2M464 566.5h1M525 566.5h3M569 566.5h2M575 566.5h1M580 566.5h1M309 567.5h1M324 567.5h3M413 567.5h1M419 567.5h1M438 567.5h1M443 567.5h1M462 567.5h2M515 567.5h3M526 567.5h1M567 567.5h2M571 567.5h2M575 567.5h6M310 568.5h2M324 568.5h2M413 568.5h2M419 568.5h1M438 568.5h1M442 568.5h1M513 568.5h2M517 568.5h1M526 568.5h1M566 568.5h1M571 568.5h1M312 569.5h2M324 569.5h1M326 569.5h1M414 569.5h1M419 569.5h1M438 569.5h1M441 569.5h1M514 569.5h1M517 569.5h1M567 569.5h4M314 570.5h3M324 570.5h1M326 570.5h1M342 570.5h2M414 570.5h2M420 570.5h1M438 570.5h1M440 570.5h1M515 570.5h1M517 570.5h1M317 571.5h2M324 571.5h1M326 571.5h1M340 571.5h2M344 571.5h1M415 571.5h1M420 571.5h1M438 571.5h2M516 571.5h2M319 572.5h1M324 572.5h1M327 572.5h1M338 572.5h2M344 572.5h1M415 572.5h1M420 572.5h1M437 572.5h2M517 572.5h1M319 573.5h1M324 573.5h1M327 573.5h1M339 573.5h1M345 573.5h1M387 573.5h6M416 573.5h1M420 573.5h1M437 573.5h1M506 573.5h2M320 574.5h1M325 574.5h1M328 574.5h1M339 574.5h1M345 574.5h1M387 574.5h1M392 574.5h1M416 574.5h1M420 574.5h1M506 574.5h1M508 574.5h3M320 575.5h1M325 575.5h1M328 575.5h1M340 575.5h1M344 575.5h1M380 575.5h8M393 575.5h1M415 575.5h1M420 575.5h1M445 575.5h5M506 575.5h1M509 575.5h4M321 576.5h1M326 576.5h1M329 576.5h2M336 576.5h6M343 576.5h1M378 576.5h2M393 576.5h1M414 576.5h1M420 576.5h1M432 576.5h1M444 576.5h1M450 576.5h1M506 576.5h5M513 576.5h3M321 577.5h1M326 577.5h1M331 577.5h5M343 577.5h1M377 577.5h1M393 577.5h1M413 577.5h1M420 577.5h1M431 577.5h2M443 577.5h1M450 577.5h1M510 577.5h1M514 577.5h1M321 578.5h1M326 578.5h1M342 578.5h1M376 578.5h1M393 578.5h1M412 578.5h1M420 578.5h1M431 578.5h1M433 578.5h1M443 578.5h1M451 578.5h1M510 578.5h4M321 579.5h1M327 579.5h1M340 579.5h2M376 579.5h1M394 579.5h1M411 579.5h1M420 579.5h1M430 579.5h1M433 579.5h1M442 579.5h1M451 579.5h1M321 580.5h1M327 580.5h1M336 580.5h4M376 580.5h1M394 580.5h1M410 580.5h1M420 580.5h1M429 580.5h1M431 580.5h2M441 580.5h1M452 580.5h1M321 581.5h1M328 581.5h1M333 581.5h3M376 581.5h1M394 581.5h1M409 581.5h1M420 581.5h1M429 581.5h2M442 581.5h1M451 581.5h1M558 581.5h1M321 582.5h1M328 582.5h1M333 582.5h1M377 582.5h1M394 582.5h1M409 582.5h1M420 582.5h1M428 582.5h1M443 582.5h1M451 582.5h1M557 582.5h1M559 582.5h1M321 583.5h1M328 583.5h1M333 583.5h1M374 583.5h2M377 583.5h1M394 583.5h1M409 583.5h1M420 583.5h1M444 583.5h2M450 583.5h1M556 583.5h1M559 583.5h1M321 584.5h1M328 584.5h1M332 584.5h1M373 584.5h1M376 584.5h2M394 584.5h1M409 584.5h1M420 584.5h1M446 584.5h1M450 584.5h1M555 584.5h1M558 584.5h1M281 585.5h1M321 585.5h1M328 585.5h1M332 585.5h1M373 585.5h1M395 585.5h1M409 585.5h1M420 585.5h1M447 585.5h1M449 585.5h1M554 585.5h4M281 586.5h1M321 586.5h1M328 586.5h1M332 586.5h1M372 586.5h1M396 586.5h1M406 586.5h4M415 586.5h3M420 586.5h1M430 586.5h1M448 586.5h1M281 587.5h1M321 587.5h1M329 587.5h1M332 587.5h4M372 587.5h1M396 587.5h1M402 587.5h4M412 587.5h3M417 587.5h1M430 587.5h2M438 587.5h2M281 588.5h1M322 588.5h2M329 588.5h1M334 588.5h1M371 588.5h1M397 588.5h1M401 588.5h1M413 588.5h1M418 588.5h1M430 588.5h1M432 588.5h1M435 588.5h3M439 588.5h1M281 589.5h1M324 589.5h1M329 589.5h1M333 589.5h1M371 589.5h1M397 589.5h1M400 589.5h1M413 589.5h1M418 589.5h1M430 589.5h1M433 589.5h2M439 589.5h1M280 590.5h1M323 590.5h1M329 590.5h1M333 590.5h1M370 590.5h1M398 590.5h2M414 590.5h1M418 590.5h1M431 590.5h1M439 590.5h1M279 591.5h1M304 591.5h1M323 591.5h1M329 591.5h1M333 591.5h1M363 591.5h8M398 591.5h1M414 591.5h1M416 591.5h2M431 591.5h1M433 591.5h7M279 592.5h1M303 592.5h1M322 592.5h1M330 592.5h1M333 592.5h1M363 592.5h1M415 592.5h1M431 592.5h2M278 593.5h1M303 593.5h1M322 593.5h1M330 593.5h1M332 593.5h2M363 593.5h1M431 593.5h1M278 594.5h1M303 594.5h1M321 594.5h1M330 594.5h1M334 594.5h3M363 594.5h1M277 595.5h2M303 595.5h1M321 595.5h1M330 595.5h1M337 595.5h4M363 595.5h1M276 596.5h1M278 596.5h1M297 596.5h1M304 596.5h1M320 596.5h1M330 596.5h1M341 596.5h3M363 596.5h1M276 597.5h2M298 597.5h2M304 597.5h1M320 597.5h1M330 597.5h1M343 597.5h1M363 597.5h1M275 598.5h1M277 598.5h1M296 598.5h2M300 598.5h2M304 598.5h1M320 598.5h1M330 598.5h1M344 598.5h1M363 598.5h1M275 599.5h1M277 599.5h1M293 599.5h3M298 599.5h2M301 599.5h1M303 599.5h1M320 599.5h1M330 599.5h1M344 599.5h1M363 599.5h1M276 600.5h1M278 600.5h1M290 600.5h3M300 600.5h3M320 600.5h1M330 600.5h1M344 600.5h1M363 600.5h1M234 601.5h1M244 601.5h1M268 601.5h1M276 601.5h1M279 601.5h11M301 601.5h1M320 601.5h1M330 601.5h1M345 601.5h2M359 601.5h5M229 602.5h1M233 602.5h2M244 602.5h2M269 602.5h4M276 602.5h1M302 602.5h1M320 602.5h1M330 602.5h1M347 602.5h2M359 602.5h1M390 602.5h3M228 603.5h1M230 603.5h2M233 603.5h1M235 603.5h1M238 603.5h1M244 603.5h2M253 603.5h1M270 603.5h2M273 603.5h4M302 603.5h1M320 603.5h1M330 603.5h1M349 603.5h1M360 603.5h1M388 603.5h2M393 603.5h3M228 604.5h1M230 604.5h1M232 604.5h1M235 604.5h3M239 604.5h1M244 604.5h1M246 604.5h1M252 604.5h2M272 604.5h3M277 604.5h1M302 604.5h1M320 604.5h1M331 604.5h1M349 604.5h1M360 604.5h1M381 604.5h1M386 604.5h2M395 604.5h1M226 605.5h2M231 605.5h1M235 605.5h1M240 605.5h1M243 605.5h2M246 605.5h1M250 605.5h2M253 605.5h1M275 605.5h3M302 605.5h1M319 605.5h1M331 605.5h1M350 605.5h1M359 605.5h1M381 605.5h2M384 605.5h2M395 605.5h1M224 606.5h2M232 606.5h1M241 606.5h2M246 606.5h1M249 606.5h1M253 606.5h1M274 606.5h2M301 606.5h1M318 606.5h1M331 606.5h1M350 606.5h9M381 606.5h1M383 606.5h1M395 606.5h1M233 607.5h1M246 607.5h1M248 607.5h1M253 607.5h1M272 607.5h2M301 607.5h1M317 607.5h1M331 607.5h1M381 607.5h1M393 607.5h2M234 608.5h1M247 608.5h2M253 608.5h1M270 608.5h2M300 608.5h1M316 608.5h1M331 608.5h1M381 608.5h1M391 608.5h2M235 609.5h1M247 609.5h1M253 609.5h1M268 609.5h2M300 609.5h2M316 609.5h1M330 609.5h1M381 609.5h1M389 609.5h2M236 610.5h1M247 610.5h1M252 610.5h1M267 610.5h1M302 610.5h3M316 610.5h1M325 610.5h6M380 610.5h1M388 610.5h1M237 611.5h1M251 611.5h1M266 611.5h1M305 611.5h2M315 611.5h1M324 611.5h1M377 611.5h1M380 611.5h1M387 611.5h1M237 612.5h1M250 612.5h1M265 612.5h1M307 612.5h1M315 612.5h1M323 612.5h1M376 612.5h1M378 612.5h2M386 612.5h1M237 613.5h8M249 613.5h1M264 613.5h1M307 613.5h1M315 613.5h1M318 613.5h3M322 613.5h1M374 613.5h2M378 613.5h1M386 613.5h1M245 614.5h1M248 614.5h1M263 614.5h1M307 614.5h1M316 614.5h2M321 614.5h1M363 614.5h2M368 614.5h1M373 614.5h1M385 614.5h1M246 615.5h1M249 615.5h2M262 615.5h1M307 615.5h9M361 615.5h2M364 615.5h1M367 615.5h3M372 615.5h1M384 615.5h1M246 616.5h1M251 616.5h1M262 616.5h1M314 616.5h1M358 616.5h3M364 616.5h1M366 616.5h2M371 616.5h1M384 616.5h1M247 617.5h1M252 617.5h1M258 617.5h2M263 617.5h1M314 617.5h1M337 617.5h1M356 617.5h2M364 617.5h2M371 617.5h1M385 617.5h1M247 618.5h1M253 618.5h1M256 618.5h2M260 618.5h1M263 618.5h1M314 618.5h1M336 618.5h2M356 618.5h1M364 618.5h1M372 618.5h1M385 618.5h1M245 619.5h2M254 619.5h2M260 619.5h1M263 619.5h1M314 619.5h1M335 619.5h1M337 619.5h1M355 619.5h1M363 619.5h1M373 619.5h1M381 619.5h2M385 619.5h1M243 620.5h2M261 620.5h1M264 620.5h1M314 620.5h1M334 620.5h1M337 620.5h1M353 620.5h3M363 620.5h1M374 620.5h1M378 620.5h3M382 620.5h1M385 620.5h1M241 621.5h2M262 621.5h1M264 621.5h1M333 621.5h1M337 621.5h1M350 621.5h3M362 621.5h1M375 621.5h3M382 621.5h1M386 621.5h1M243 622.5h2M262 622.5h1M264 622.5h1M271 622.5h2M334 622.5h2M337 622.5h1M351 622.5h2M362 622.5h1M382 622.5h1M386 622.5h1M244 623.5h1M261 623.5h1M264 623.5h1M270 623.5h1M273 623.5h1M336 623.5h2M353 623.5h2M361 623.5h1M378 623.5h2M382 623.5h1M386 623.5h1M244 624.5h1M256 624.5h5M265 624.5h1M270 624.5h1M274 624.5h2M337 624.5h1M353 624.5h1M362 624.5h1M378 624.5h1M380 624.5h3M385 624.5h1M238 625.5h7M251 625.5h5M265 625.5h5M276 625.5h1M351 625.5h2M363 625.5h1M377 625.5h1M385 625.5h1M240 626.5h1M252 626.5h1M276 626.5h1M348 626.5h3M364 626.5h1M377 626.5h1M385 626.5h1M241 627.5h1M252 627.5h1M276 627.5h1M348 627.5h1M363 627.5h1M376 627.5h1M384 627.5h1M241 628.5h1M253 628.5h1M275 628.5h1M348 628.5h1M362 628.5h1M376 628.5h1M383 628.5h1M242 629.5h4M254 629.5h1M274 629.5h2M347 629.5h1M351 629.5h2M361 629.5h1M375 629.5h1M383 629.5h1M242 630.5h2M253 630.5h1M272 630.5h2M314 630.5h1M347 630.5h1M349 630.5h2M352 630.5h1M360 630.5h1M375 630.5h5M384 630.5h1M392 630.5h7M240 631.5h2M253 631.5h1M262 631.5h2M269 631.5h3M313 631.5h1M347 631.5h1M349 631.5h1M353 631.5h1M356 631.5h4M379 631.5h1M384 631.5h1M393 631.5h2M396 631.5h2M238 632.5h2M252 632.5h1M261 632.5h1M264 632.5h5M313 632.5h1M347 632.5h1M350 632.5h1M353 632.5h1M355 632.5h1M378 632.5h1M384 632.5h1M395 632.5h1M233 633.5h5M251 633.5h2M260 633.5h1M313 633.5h1M346 633.5h1M350 633.5h1M354 633.5h2M378 633.5h2M385 633.5h1M230 634.5h3M248 634.5h3M259 634.5h1M313 634.5h1M346 634.5h6M354 634.5h1M380 634.5h1M385 634.5h1M230 635.5h1M249 635.5h1M258 635.5h1M313 635.5h1M379 635.5h1M384 635.5h1M230 636.5h1M250 636.5h1M257 636.5h1M313 636.5h1M378 636.5h1M383 636.5h1M229 637.5h1M251 637.5h3M256 637.5h1M313 637.5h1M379 637.5h2M382 637.5h1M229 638.5h1M249 638.5h3M254 638.5h2M298 638.5h1M313 638.5h1M381 638.5h1M229 639.5h1M248 639.5h2M298 639.5h3M313 639.5h1M229 640.5h1M298 640.5h1M300 640.5h2M313 640.5h1M217 641.5h1M228 641.5h1M298 641.5h2M313 641.5h1M218 642.5h1M228 642.5h1M209 643.5h1M218 643.5h1M228 643.5h1M207 644.5h3M219 644.5h1M228 644.5h1M206 645.5h1M209 645.5h1M219 645.5h3M227 645.5h1M205 646.5h1M209 646.5h1M217 646.5h2M222 646.5h6M209 647.5h1M212 647.5h5M312 647.5h1M209 648.5h3M312 648.5h1M312 649.5h1M312 650.5h1M312 651.5h1M312 652.5h1M312 653.5h1M312 654.5h1M311 655.5h2M311 662.5h1M311 663.5h1M310 664.5h1M310 665.5h1M310 666.5h1M310 667.5h1M310 668.5h1M310 669.5h1M310 670.5h1M310 671.5h1"/>
<g class="st">
<polygon points="494.6,91.2 500,91.2 502,94.1 502,97.9 499.7,100.7 495.4,100.7 491.9,97.9 491.9,94.8"/>
<polygon points="837.2,139.2 842.6,139.2 844.6,142.1 844.6,145.9 842.3,148.7 838,148.7 834.5,145.9 834.5,142.8"/>
<polygon points="410.2,279.6 415.6,279.6 417.6,282.5 417.6,286.3 415.3,289.1 411,289.1 407.5,286.3 407.5,283.2"/>
<polygon points="641.2,275.1 646.6,275.1 648.6,278 648.6,281.8 646.3,284.6 642,284.6 638.5,281.8 638.5,278.7"/>
<polygon points="871.6,304.6 877,304.6 879,307.5 879,311.3 876.7,314.1 872.4,314.1 868.9,311.3 868.9,308.2"/>
<polygon points="331.6,387.2 337,387.2 339,390.1 339,393.9 336.7,396.7 332.4,396.7 328.9,393.9 328.9,390.8"/>
<polygon points="273.6,407.2 279,407.2 281,410.1 281,413.9 278.7,416.7 274.4,416.7 270.9,413.9 270.9,410.8"/>
<polygon points="441,368.8 446.4,368.8 448.4,371.7 448.4,375.5 446.1,378.3 441.8,378.3 438.3,375.5 438.3,372.4"/>
<polygon points="424.6,387.2 430,387.2 432,390.1 432,393.9 429.7,396.7 425.4,396.7 421.9,393.9 421.9,390.8"/>
<polygon points="512.6,388.8 518,388.8 520,391.7 520,395.5 517.7,398.3 513.4,398.3 509.9,395.5 509.9,392.4"/>
<polygon points="602.6,380.8 608,380.8 610,383.7 610,387.5 607.7,390.3 603.4,390.3 599.9,387.5 599.9,384.4"/>
<polygon points="417.8,460.2 423.2,460.2 425.2,463.1 425.2,466.9 422.9,469.7 418.6,469.7 415.1,466.9 415.1,463.8"/>
<polygon points="461.6,475.2 467,475.2 469,478.1 469,481.9 466.7,484.7 462.4,484.7 458.9,481.9 458.9,478.8"/>
<polygon points="556.6,458.4 562,458.4 564,461.3 564,465.1 561.7,467.9 557.4,467.9 553.9,465.1 553.9,462"/>
<polygon points="737.1,431.2 742.5,431.2 744.5,434.1 744.5,437.9 742.2,440.7 737.9,440.7 734.4,437.9 734.4,434.8"/>
<polygon points="480.6,512.2 486,512.2 488,515.1 488,518.9 485.7,521.7 481.4,521.7 477.9,518.9 477.9,515.8"/>
<polygon points="264.4,586 269.8,586 271.8,588.9 271.8,592.7 269.5,595.5 265.2,595.5 261.7,592.7 261.7,589.6"/>
</g>
<rect x="205" y="69" width="690" height="662.5" fill="none" stroke="#000" stroke-width="2" shape-rendering="crispEdges"/>
<g stroke="#fa3c3c" stroke-width="1" shape-rendering="crispEdges">
<line x1="198" y1="732.5" x2="204" y2="732.5"/>
<line x1="198" y1="649.5" x2="204" y2="649.5"/>
<line x1="198" y1="566.5" x2="204" y2="566.5"/>
<line x1="198" y1="483.5" x2="204" y2="483.5"/>
<line x1="198" y1="400.5" x2="204" y2="400.5"/>
<line x1="198" y1="318.5" x2="204" y2="318.5"/>
<line x1="198" y1="235.5" x2="204" y2="235.5"/>
<line x1="198" y1="152.5" x2="204" y2="152.5"/>
<line x1="205.5" y1="733" x2="205.5" y2="739"/>
<line x1="274.5" y1="733" x2="274.5" y2="739"/>
<line x1="343.5" y1="733" x2="343.5" y2="739"/>
<line x1="412.5" y1="733" x2="412.5" y2="739"/>
<line x1="481.5" y1="733" x2="481.5" y2="739"/>
<line x1="550.5" y1="733" x2="550.5" y2="739"/>
<line x1="619.5" y1="733" x2="619.5" y2="739"/>
<line x1="688.5" y1="733" x2="688.5" y2="739"/>
<line x1="757.5" y1="733" x2="757.5" y2="739"/>
<line x1="826.5" y1="733" x2="826.5" y2="739"/>
</g>
<text x="153" y="740.1" font-size="25.5" fill="#fa3c3c" textLength="38.5" lengthAdjust="spacingAndGlyphs">21N</text>
<text x="133.5" y="657.3" font-size="25.5" fill="#fa3c3c" textLength="58" lengthAdjust="spacingAndGlyphs">21.5N</text>
<text x="153" y="574.5" font-size="25.5" fill="#fa3c3c" textLength="38.5" lengthAdjust="spacingAndGlyphs">22N</text>
<text x="133.5" y="491.7" font-size="25.5" fill="#fa3c3c" textLength="58" lengthAdjust="spacingAndGlyphs">22.5N</text>
<text x="153" y="408.9" font-size="25.5" fill="#fa3c3c" textLength="38.5" lengthAdjust="spacingAndGlyphs">23N</text>
<text x="133.5" y="326.1" font-size="25.5" fill="#fa3c3c" textLength="58" lengthAdjust="spacingAndGlyphs">23.5N</text>
<text x="153" y="243.3" font-size="25.5" fill="#fa3c3c" textLength="38.5" lengthAdjust="spacingAndGlyphs">24N</text>
<text x="133.5" y="160.5" font-size="25.5" fill="#fa3c3c" textLength="58" lengthAdjust="spacingAndGlyphs">24.5N</text>
<text x="171.25" y="760.3" font-size="25.5" fill="#fa3c3c" textLength="68.5" lengthAdjust="spacingAndGlyphs">111.5E</text>
<text x="250.05" y="760.3" font-size="25.5" fill="#fa3c3c" textLength="49" lengthAdjust="spacingAndGlyphs">112E</text>
<text x="309.35" y="760.3" font-size="25.5" fill="#fa3c3c" textLength="68.5" lengthAdjust="spacingAndGlyphs">112.5E</text>
<text x="388.15" y="760.3" font-size="25.5" fill="#fa3c3c" textLength="49" lengthAdjust="spacingAndGlyphs">113E</text>
<text x="447.45" y="760.3" font-size="25.5" fill="#fa3c3c" textLength="68.5" lengthAdjust="spacingAndGlyphs">113.5E</text>
<text x="526.25" y="760.3" font-size="25.5" fill="#fa3c3c" textLength="49" lengthAdjust="spacingAndGlyphs">114E</text>
<text x="585.55" y="760.3" font-size="25.5" fill="#fa3c3c" textLength="68.5" lengthAdjust="spacingAndGlyphs">114.5E</text>
<text x="664.35" y="760.3" font-size="25.5" fill="#fa3c3c" textLength="49" lengthAdjust="spacingAndGlyphs">115E</text>
<text x="723.65" y="760.3" font-size="25.5" fill="#fa3c3c" textLength="68.5" lengthAdjust="spacingAndGlyphs">115.5E</text>
<text x="802.45" y="760.3" font-size="25.5" fill="#fa3c3c" textLength="49" lengthAdjust="spacingAndGlyphs">116E</text>
<text x="171" y="44" font-size="25.5" fill="#000" textLength="53.5" lengthAdjust="spacingAndGlyphs">2026</text>
<text x="229" y="42.5" font-size="23" fill="#000" textLength="22" lengthAdjust="spacingAndGlyphs" class="cjk">年</text>
<text x="252" y="44" font-size="25.5" fill="#000" textLength="25" lengthAdjust="spacingAndGlyphs">04</text>
<text x="279.5" y="42.5" font-size="23" fill="#000" textLength="21" lengthAdjust="spacingAndGlyphs" class="cjk">月</text>
<text x="307" y="44" font-size="25.5" fill="#000" textLength="25" lengthAdjust="spacingAndGlyphs">02</text>
<text x="335.5" y="40.5" font-size="20.5" fill="#000" textLength="19" lengthAdjust="spacingAndGlyphs" class="cjk">日</text>
<text x="357.5" y="44" font-size="25.5" fill="#000" textLength="40.5" lengthAdjust="spacingAndGlyphs">WRF</text>
<text x="403" y="45.5" font-size="30" fill="#000" textLength="12.5" lengthAdjust="spacingAndGlyphs" style="font-family:'DejaVu Sans Light','DejaVu Sans','Liberation Sans',sans-serif;font-weight:200">/</text>
<text x="418.5" y="44" font-size="25.5" fill="#000" textLength="62.5" lengthAdjust="spacingAndGlyphs">cmaq</text>
<text x="483" y="42.5" font-size="23" fill="#000" textLength="46" lengthAdjust="spacingAndGlyphs" class="cjk">模式</text>
<text x="533.5" y="44" font-size="25.5" fill="#000" textLength="62" lengthAdjust="spacingAndGlyphs">12km</text>
<text x="597" y="42.5" font-size="23" fill="#000" textLength="93.5" lengthAdjust="spacingAndGlyphs" class="cjk">预报产品</text>
<text x="692.5" y="44" font-size="25.5" fill="#000" textLength="5" lengthAdjust="spacingAndGlyphs">:</text>
<text x="702" y="44" font-size="25.5" fill="#000" textLength="25" lengthAdjust="spacingAndGlyphs">04</text>
<text x="730.5" y="42.5" font-size="23" fill="#000" textLength="21" lengthAdjust="spacingAndGlyphs" class="cjk">月</text>
<text x="757" y="44" font-size="25.5" fill="#000" textLength="25" lengthAdjust="spacingAndGlyphs">02</text>
<text x="785.5" y="40.5" font-size="20.5" fill="#000" textLength="19" lengthAdjust="spacingAndGlyphs" class="cjk">日</text>
<text x="807" y="44" font-size="25.5" fill="#000" textLength="25" lengthAdjust="spacingAndGlyphs">00</text>
<text x="836" y="42.5" font-size="23" fill="#000" textLength="21" lengthAdjust="spacingAndGlyphs" class="cjk">时</text>
<text x="871" y="44" font-size="25.5" fill="#fa3c3c" textLength="113" lengthAdjust="spacingAndGlyphs">PRIMARY</text>
<g shape-rendering="crispEdges" stroke="#000" stroke-width="1">
<rect x="957.5" y="249.5" width="40" height="51" fill="#ffff00"/>
<rect x="957.5" y="300.5" width="40" height="50" fill="#ffff00"/>
<rect x="957.5" y="350.5" width="40" height="50" fill="#7e0023"/>
<rect x="957.5" y="400.5" width="40" height="50" fill="#d2006e"/>
<rect x="957.5" y="450.5" width="40" height="50" fill="#ff0000"/>
<rect x="957.5" y="500.5" width="40" height="50" fill="#ff7e00"/>
<rect x="957.5" y="550.5" width="40" height="50" fill="#00e400"/>
</g>
<text x="1003.5" y="283.35" font-size="23" fill="#000" textLength="70" lengthAdjust="spacingAndGlyphs">o3_8h</text>
<text x="1003.5" y="333.45" font-size="23" fill="#000" textLength="70" lengthAdjust="spacingAndGlyphs">o3_1h</text>
<text x="1003.5" y="383.55" font-size="23" fill="#000" textLength="65" lengthAdjust="spacingAndGlyphs">pm10</text>
<text x="1003.5" y="433.65" font-size="23" fill="#000" textLength="72" lengthAdjust="spacingAndGlyphs">pm2.5</text>
<text x="1003.5" y="483.75" font-size="23" fill="#000" textLength="25" lengthAdjust="spacingAndGlyphs">co</text>
<text x="1003.5" y="533.85" font-size="23" fill="#000" textLength="41.5" lengthAdjust="spacingAndGlyphs">no2</text>
<text x="1003.5" y="583.95" font-size="23" fill="#000" textLength="38.5" lengthAdjust="spacingAndGlyphs">so2</text>
<text x="360" y="829" font-size="20" fill="#000" textLength="78.5" lengthAdjust="spacingAndGlyphs" class="cjk">版权所有</text>
<text x="440" y="829" font-size="22" fill="#000">:</text>
<text x="453.5" y="829" font-size="20" fill="#000" textLength="76" lengthAdjust="spacingAndGlyphs" class="cjk">南京大学</text>
<line x1="534.5" y1="808" x2="534.5" y2="838" stroke="#000" stroke-width="1" shape-rendering="crispEdges"/>
<text x="545.5" y="829" font-size="20" fill="#000" textLength="196.5" lengthAdjust="spacingAndGlyphs" class="cjk">南京创蓝科技有限公司</text>
</svg>
</body></html>
